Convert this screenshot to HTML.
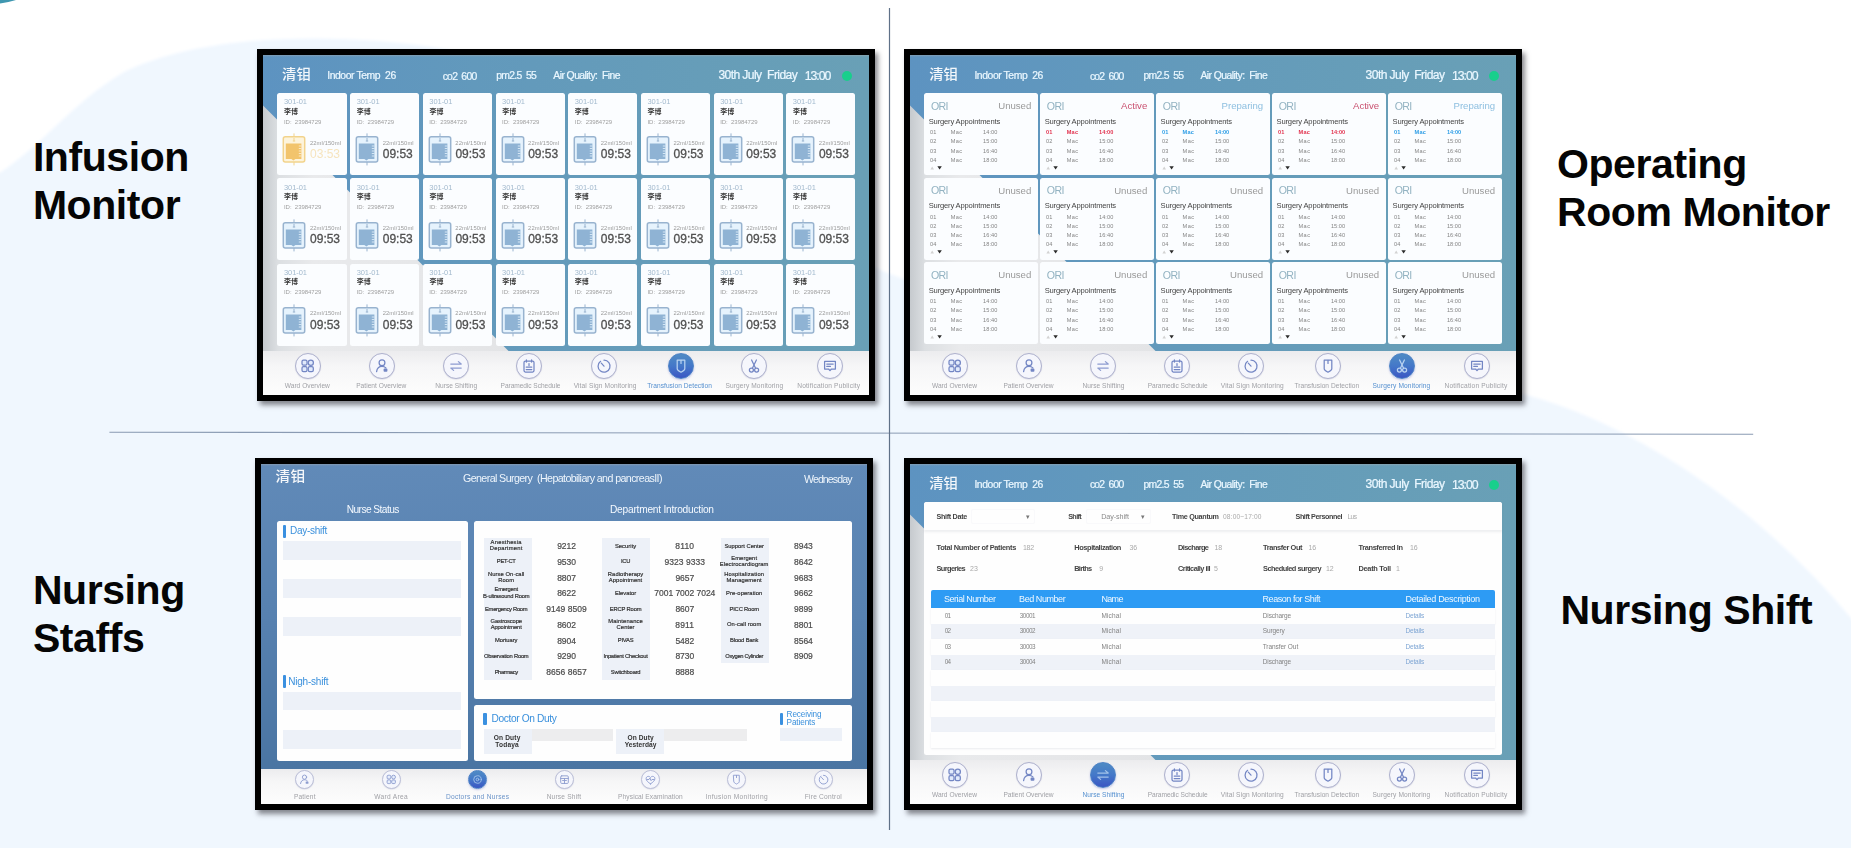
<!DOCTYPE html>
<html lang="en"><head><meta charset="utf-8"><title>Smart ward monitors</title>
<style>
*{box-sizing:border-box}
html,body{margin:0;padding:0}
body{width:1851px;height:848px;position:relative;overflow:hidden;background:#fff;font-family:"Liberation Sans","Noto Sans CJK SC",sans-serif;-webkit-font-smoothing:antialiased}
.bg{position:absolute;left:0;top:0}
h2{position:absolute;margin:0;font:bold 41px/48px "Liberation Sans",sans-serif;color:#050505;white-space:nowrap;letter-spacing:-.42px}
.frame{position:absolute;width:618px;height:352px;border:6px solid #000;background:#000;box-shadow:3px 4px 5px rgba(40,40,50,.55)}
.screen{position:relative;width:606px;height:340px;overflow:hidden;filter:blur(.65px)}
.screen::after{content:"";position:absolute;left:0;top:0;width:606px;height:2px;background:linear-gradient(180deg,rgba(170,170,170,.45),rgba(170,170,170,0))}
.std .screen{background:linear-gradient(90deg,#5d93c1 0%,#6299bc 35%,#69a0b6 100%)}
.blue .screen{background:linear-gradient(180deg,#618ab8 0%,#5781b0 45%,#47729f 100%)}
.b,.t,.ni,.tri{position:absolute}
.t{white-space:nowrap;font-family:"Liberation Sans","Noto Sans CJK SC",sans-serif}
.wedge{position:absolute;left:0;top:0}
.card{background:#fbfdff;border-radius:2.5px}
.panel{background:#fefefe;border-radius:2.5px}
.dot{border-radius:50%;background:#18cf8c}
.nav{background:linear-gradient(180deg,#ececee 0%,#f6f6f7 35%,#fdfdfd 100%)}
.navsh{background:linear-gradient(180deg,rgba(205,208,212,0),rgba(215,217,220,.0))}
.ni{border-radius:50%;border:1px solid #aeb1cd;background:#f5f6fc;box-shadow:0 .5px 1px rgba(120,125,170,.25)}
.ni svg{position:absolute;left:-1px;top:-1px}
.ni.sm{border-color:#bcc0d8}
.ni.sm svg{opacity:.8}
.ni.sm.on{border-color:#4c82c6}
svg{display:block}
.ni.on{border-color:#4c82c6;background:linear-gradient(180deg,#4f8bc4 0%,#4478c9 50%,#3a55c3 100%);box-shadow:0 1px 2px rgba(90,100,200,.35)}
.bar{background:#3a90e0;border-radius:1px}
.stripe{background:#edf1f8}
.lab{background:#edf1f8}
.gbar{background:#ededee}
.filter{background:#fefefe;border-radius:2.5px 2.5px 0 0;box-shadow:0 1.500px 2.500px rgba(120,130,150,.13)}
.sel{border:1px solid #f9f9fb;border-radius:2px;background:#fefefe}
.thead{background:#2d9bf4;border-radius:2px 2px 0 0}
.tr{background:#fefefe;box-shadow:0 1px 1.500px rgba(150,160,180,.18)}
.tr.alt{background:#eff2f8;box-shadow:none}
.hd{-webkit-text-stroke:.22px currentColor}
.tm{-webkit-text-stroke:.3px currentColor}
.dl{-webkit-text-stroke:.18px #2e2e2e}
.dn{-webkit-text-stroke:.2px #4c4c4c}
.logo{font-family:"Liberation Sans","Noto Sans CJK SC",sans-serif}
.cjk{font-family:"Liberation Sans","Noto Sans CJK SC",sans-serif}
</style></head><body>
<svg class="bg" viewBox="0 0 1851 848" width="1851" height="848"><rect width="1851" height="848" fill="#ffffff"/><filter id="soft" x="-5%" y="-5%" width="110%" height="110%"><feGaussianBlur stdDeviation="1.6"/></filter><path filter="url(#soft)" d="M-20 184 C34 158 66 106 124 72 C190 40 290 34 380 41 C470 48 560 70 700 160 C780 212 830 250 890 274 C1100 350 1400 362 1530 396 C1650 430 1770 520 1851 618 L1900 700 L1900 900 L-20 900 Z" fill="#f0f7fe"/><path d="M0 0 L16 0 C11 1.600 6 2.800 0 3.400 Z" fill="#3f97b0"/><line x1="109.400" y1="432.200" x2="1753.200" y2="434.200" stroke="#8a9bb3" stroke-width="1.050"/><line x1="889.500" y1="8" x2="889.500" y2="830" stroke="#5f7188" stroke-width="1.200"/></svg>
<h2 style="left:32.9px;top:132.5px">Infusion<br>Monitor</h2>
<h2 style="left:1557px;top:140.3px">Operating<br>Room Monitor</h2>
<h2 style="left:32.9px;top:565.7px">Nursing<br>Staffs</h2>
<h2 style="left:1560.4px;top:585.9px">Nursing Shift</h2>
<section class="frame std" style="left:257px;top:49px"><div class="screen"><svg class="wedge" viewBox="0 0 606 340" width="606" height="340"><defs><linearGradient id="wga" x1="0" x2="1" y1="0" y2="0"><stop offset="0" stop-color="#c6cace"/><stop offset=".06" stop-color="#dcdfe2"/><stop offset=".2" stop-color="#e9eaec"/><stop offset="1" stop-color="#e3e4e6"/></linearGradient></defs><polygon points="0,50.500 249,299.500 0,299.500" fill="url(#wga)"/></svg>
<div class="t logo" style="left:19.0px;top:11.46px;font-size:14.4px;line-height:17.28px;color:rgba(255,255,255,.93);font-weight:500;transform:scaleY(.92);">清钼</div>
<div class="t hd" style="left:64.2px;top:15.16px;font-size:10.4px;line-height:12.48px;color:#eaf7ff;letter-spacing:-0.422px;">Indoor Temp&nbsp; 26</div>
<div class="t hd" style="left:179.7px;top:15.76px;font-size:10.4px;line-height:12.48px;color:#eaf7ff;letter-spacing:-0.768px;">co2&nbsp; 600</div>
<div class="t hd" style="left:233.2px;top:15.16px;font-size:10.4px;line-height:12.48px;color:#eaf7ff;letter-spacing:-0.702px;">pm2.5&nbsp; 55</div>
<div class="t hd" style="left:290.3px;top:15.16px;font-size:10.4px;line-height:12.48px;color:#eaf7ff;letter-spacing:-0.565px;">Air Quality:&nbsp; Fine</div>
<div class="t hd" style="left:455.4px;top:13.14px;font-size:12.1px;line-height:14.52px;color:#eaf7ff;letter-spacing:-0.583px;">30th July&nbsp; Friday</div>
<div class="t hd" style="left:541.8px;top:13.92px;font-size:12.3px;line-height:14.76px;color:#eaf7ff;letter-spacing:-1.070px;">13:00</div>
<div class="b dot" style="left:578.9px;top:16.1px;width:10.4px;height:10.4px;"></div>
<div class="b card" style="left:14.45px;top:38.0px;width:69.1px;height:82.0px;"></div>
<div class="t" style="left:20.95px;top:42.3px;font-size:7.5px;line-height:9.0px;color:#a3bace;letter-spacing:-0.072px;">301-01</div>
<div class="t cjk" style="left:21.05px;top:52.8px;font-size:7.0px;line-height:8.4px;color:#3a3a3a;font-weight:700;letter-spacing:0.000px;">李博</div>
<div class="t" style="left:20.95px;top:63.6px;font-size:6.0px;line-height:7.2px;color:#a0a0a0;letter-spacing:-0.025px;">ID:&nbsp; 23984729</div>
<div class="b" style="left:19.45px;top:76.3px;width:24px;height:36px"><svg class="bag" viewBox="0 0 24 36" width="24" height="36"><path d="M12 2.400v4M12 30v4.400" stroke="#f2d38c" stroke-width="1" fill="none"/><rect x="1.300" y="5.800" width="21.400" height="25.200" rx="2" fill="#fdf4dc" stroke="#f2d38c" stroke-width="1.500"/><path d="M3.800 12.600h15.600v15.400h-6l-2 1.400-2-1.400h-5.600z" fill="#f2c46c"/><path d="M16.800 15h2.600M16.800 17.500h2.600M16.800 20h2.600M16.800 22.500h2.600M16.800 25h2.600" stroke="#fdf4dc" stroke-width=".800"/><path d="M12 7v3.200M10.800 10h2.400" stroke="#f2d38c" stroke-width="1"/></svg></div>
<div class="t" style="left:46.95px;top:84.62px;font-size:5.8px;line-height:6.96px;color:#9a9a9a;letter-spacing:0.115px;">22ml/150ml</div>
<div class="t" style="left:47.05px;top:92.0px;font-size:12.0px;line-height:14.4px;color:#f6e4be;letter-spacing:-0.008px;">03:53</div>
<div class="b card" style="left:87.15px;top:38.0px;width:69.1px;height:82.0px;"></div>
<div class="t" style="left:93.65px;top:42.3px;font-size:7.5px;line-height:9.0px;color:#a3bace;letter-spacing:-0.072px;">301-01</div>
<div class="t cjk" style="left:93.75px;top:52.8px;font-size:7.0px;line-height:8.4px;color:#3a3a3a;font-weight:700;letter-spacing:0.000px;">李博</div>
<div class="t" style="left:93.65px;top:63.6px;font-size:6.0px;line-height:7.2px;color:#a0a0a0;letter-spacing:-0.025px;">ID:&nbsp; 23984729</div>
<div class="b" style="left:92.15px;top:76.3px;width:24px;height:36px"><svg class="bag" viewBox="0 0 24 36" width="24" height="36"><path d="M12 2.400v4M12 30v4.400" stroke="#98b3cf" stroke-width="1" fill="none"/><rect x="1.300" y="5.800" width="21.400" height="25.200" rx="2" fill="#e6f3fd" stroke="#98b3cf" stroke-width="1.500"/><path d="M3.800 12.600h15.600v15.400h-6l-2 1.400-2-1.400h-5.600z" fill="#8fb3d4"/><path d="M16.800 15h2.600M16.800 17.500h2.600M16.800 20h2.600M16.800 22.500h2.600M16.800 25h2.600" stroke="#e6f3fd" stroke-width=".800"/><path d="M12 7v3.200M10.800 10h2.400" stroke="#98b3cf" stroke-width="1"/></svg></div>
<div class="t" style="left:119.65px;top:84.62px;font-size:5.8px;line-height:6.96px;color:#9a9a9a;letter-spacing:0.115px;">22ml/150ml</div>
<div class="t tm" style="left:119.75px;top:92.0px;font-size:12.0px;line-height:14.4px;color:#505050;letter-spacing:-0.008px;">09:53</div>
<div class="b card" style="left:159.85px;top:38.0px;width:69.1px;height:82.0px;"></div>
<div class="t" style="left:166.35px;top:42.3px;font-size:7.5px;line-height:9.0px;color:#a3bace;letter-spacing:-0.072px;">301-01</div>
<div class="t cjk" style="left:166.45px;top:52.8px;font-size:7.0px;line-height:8.4px;color:#3a3a3a;font-weight:700;letter-spacing:0.000px;">李博</div>
<div class="t" style="left:166.35px;top:63.6px;font-size:6.0px;line-height:7.2px;color:#a0a0a0;letter-spacing:-0.025px;">ID:&nbsp; 23984729</div>
<div class="b" style="left:164.85px;top:76.3px;width:24px;height:36px"><svg class="bag" viewBox="0 0 24 36" width="24" height="36"><path d="M12 2.400v4M12 30v4.400" stroke="#98b3cf" stroke-width="1" fill="none"/><rect x="1.300" y="5.800" width="21.400" height="25.200" rx="2" fill="#e6f3fd" stroke="#98b3cf" stroke-width="1.500"/><path d="M3.800 12.600h15.600v15.400h-6l-2 1.400-2-1.400h-5.600z" fill="#8fb3d4"/><path d="M16.800 15h2.600M16.800 17.500h2.600M16.800 20h2.600M16.800 22.500h2.600M16.800 25h2.600" stroke="#e6f3fd" stroke-width=".800"/><path d="M12 7v3.200M10.800 10h2.400" stroke="#98b3cf" stroke-width="1"/></svg></div>
<div class="t" style="left:192.35px;top:84.62px;font-size:5.8px;line-height:6.96px;color:#9a9a9a;letter-spacing:0.115px;">22ml/150ml</div>
<div class="t tm" style="left:192.45px;top:92.0px;font-size:12.0px;line-height:14.4px;color:#505050;letter-spacing:-0.008px;">09:53</div>
<div class="b card" style="left:232.55px;top:38.0px;width:69.1px;height:82.0px;"></div>
<div class="t" style="left:239.05px;top:42.3px;font-size:7.5px;line-height:9.0px;color:#a3bace;letter-spacing:-0.072px;">301-01</div>
<div class="t cjk" style="left:239.15px;top:52.8px;font-size:7.0px;line-height:8.4px;color:#3a3a3a;font-weight:700;letter-spacing:0.000px;">李博</div>
<div class="t" style="left:239.05px;top:63.6px;font-size:6.0px;line-height:7.2px;color:#a0a0a0;letter-spacing:-0.025px;">ID:&nbsp; 23984729</div>
<div class="b" style="left:237.55px;top:76.3px;width:24px;height:36px"><svg class="bag" viewBox="0 0 24 36" width="24" height="36"><path d="M12 2.400v4M12 30v4.400" stroke="#98b3cf" stroke-width="1" fill="none"/><rect x="1.300" y="5.800" width="21.400" height="25.200" rx="2" fill="#e6f3fd" stroke="#98b3cf" stroke-width="1.500"/><path d="M3.800 12.600h15.600v15.400h-6l-2 1.400-2-1.400h-5.600z" fill="#8fb3d4"/><path d="M16.800 15h2.600M16.800 17.500h2.600M16.800 20h2.600M16.800 22.500h2.600M16.800 25h2.600" stroke="#e6f3fd" stroke-width=".800"/><path d="M12 7v3.200M10.800 10h2.400" stroke="#98b3cf" stroke-width="1"/></svg></div>
<div class="t" style="left:265.05px;top:84.62px;font-size:5.8px;line-height:6.96px;color:#9a9a9a;letter-spacing:0.115px;">22ml/150ml</div>
<div class="t tm" style="left:265.15px;top:92.0px;font-size:12.0px;line-height:14.4px;color:#505050;letter-spacing:-0.008px;">09:53</div>
<div class="b card" style="left:305.25px;top:38.0px;width:69.1px;height:82.0px;"></div>
<div class="t" style="left:311.75px;top:42.3px;font-size:7.5px;line-height:9.0px;color:#a3bace;letter-spacing:-0.072px;">301-01</div>
<div class="t cjk" style="left:311.85px;top:52.8px;font-size:7.0px;line-height:8.4px;color:#3a3a3a;font-weight:700;letter-spacing:0.000px;">李博</div>
<div class="t" style="left:311.75px;top:63.6px;font-size:6.0px;line-height:7.2px;color:#a0a0a0;letter-spacing:-0.025px;">ID:&nbsp; 23984729</div>
<div class="b" style="left:310.25px;top:76.3px;width:24px;height:36px"><svg class="bag" viewBox="0 0 24 36" width="24" height="36"><path d="M12 2.400v4M12 30v4.400" stroke="#98b3cf" stroke-width="1" fill="none"/><rect x="1.300" y="5.800" width="21.400" height="25.200" rx="2" fill="#e6f3fd" stroke="#98b3cf" stroke-width="1.500"/><path d="M3.800 12.600h15.600v15.400h-6l-2 1.400-2-1.400h-5.600z" fill="#8fb3d4"/><path d="M16.800 15h2.600M16.800 17.500h2.600M16.800 20h2.600M16.800 22.500h2.600M16.800 25h2.600" stroke="#e6f3fd" stroke-width=".800"/><path d="M12 7v3.200M10.800 10h2.400" stroke="#98b3cf" stroke-width="1"/></svg></div>
<div class="t" style="left:337.75px;top:84.62px;font-size:5.8px;line-height:6.96px;color:#9a9a9a;letter-spacing:0.115px;">22ml/150ml</div>
<div class="t tm" style="left:337.85px;top:92.0px;font-size:12.0px;line-height:14.4px;color:#505050;letter-spacing:-0.008px;">09:53</div>
<div class="b card" style="left:377.95px;top:38.0px;width:69.1px;height:82.0px;"></div>
<div class="t" style="left:384.45px;top:42.3px;font-size:7.5px;line-height:9.0px;color:#a3bace;letter-spacing:-0.072px;">301-01</div>
<div class="t cjk" style="left:384.55px;top:52.8px;font-size:7.0px;line-height:8.4px;color:#3a3a3a;font-weight:700;letter-spacing:0.000px;">李博</div>
<div class="t" style="left:384.45px;top:63.6px;font-size:6.0px;line-height:7.2px;color:#a0a0a0;letter-spacing:-0.025px;">ID:&nbsp; 23984729</div>
<div class="b" style="left:382.95px;top:76.3px;width:24px;height:36px"><svg class="bag" viewBox="0 0 24 36" width="24" height="36"><path d="M12 2.400v4M12 30v4.400" stroke="#98b3cf" stroke-width="1" fill="none"/><rect x="1.300" y="5.800" width="21.400" height="25.200" rx="2" fill="#e6f3fd" stroke="#98b3cf" stroke-width="1.500"/><path d="M3.800 12.600h15.600v15.400h-6l-2 1.400-2-1.400h-5.600z" fill="#8fb3d4"/><path d="M16.800 15h2.600M16.800 17.500h2.600M16.800 20h2.600M16.800 22.500h2.600M16.800 25h2.600" stroke="#e6f3fd" stroke-width=".800"/><path d="M12 7v3.200M10.800 10h2.400" stroke="#98b3cf" stroke-width="1"/></svg></div>
<div class="t" style="left:410.45px;top:84.62px;font-size:5.8px;line-height:6.96px;color:#9a9a9a;letter-spacing:0.115px;">22ml/150ml</div>
<div class="t tm" style="left:410.55px;top:92.0px;font-size:12.0px;line-height:14.4px;color:#505050;letter-spacing:-0.008px;">09:53</div>
<div class="b card" style="left:450.65px;top:38.0px;width:69.1px;height:82.0px;"></div>
<div class="t" style="left:457.15px;top:42.3px;font-size:7.5px;line-height:9.0px;color:#a3bace;letter-spacing:-0.072px;">301-01</div>
<div class="t cjk" style="left:457.25px;top:52.8px;font-size:7.0px;line-height:8.4px;color:#3a3a3a;font-weight:700;letter-spacing:0.000px;">李博</div>
<div class="t" style="left:457.15px;top:63.6px;font-size:6.0px;line-height:7.2px;color:#a0a0a0;letter-spacing:-0.025px;">ID:&nbsp; 23984729</div>
<div class="b" style="left:455.65px;top:76.3px;width:24px;height:36px"><svg class="bag" viewBox="0 0 24 36" width="24" height="36"><path d="M12 2.400v4M12 30v4.400" stroke="#98b3cf" stroke-width="1" fill="none"/><rect x="1.300" y="5.800" width="21.400" height="25.200" rx="2" fill="#e6f3fd" stroke="#98b3cf" stroke-width="1.500"/><path d="M3.800 12.600h15.600v15.400h-6l-2 1.400-2-1.400h-5.600z" fill="#8fb3d4"/><path d="M16.800 15h2.600M16.800 17.500h2.600M16.800 20h2.600M16.800 22.500h2.600M16.800 25h2.600" stroke="#e6f3fd" stroke-width=".800"/><path d="M12 7v3.200M10.800 10h2.400" stroke="#98b3cf" stroke-width="1"/></svg></div>
<div class="t" style="left:483.15px;top:84.62px;font-size:5.8px;line-height:6.96px;color:#9a9a9a;letter-spacing:0.115px;">22ml/150ml</div>
<div class="t tm" style="left:483.25px;top:92.0px;font-size:12.0px;line-height:14.4px;color:#505050;letter-spacing:-0.008px;">09:53</div>
<div class="b card" style="left:523.35px;top:38.0px;width:69.1px;height:82.0px;"></div>
<div class="t" style="left:529.85px;top:42.3px;font-size:7.5px;line-height:9.0px;color:#a3bace;letter-spacing:-0.072px;">301-01</div>
<div class="t cjk" style="left:529.95px;top:52.8px;font-size:7.0px;line-height:8.4px;color:#3a3a3a;font-weight:700;letter-spacing:0.000px;">李博</div>
<div class="t" style="left:529.85px;top:63.6px;font-size:6.0px;line-height:7.2px;color:#a0a0a0;letter-spacing:-0.025px;">ID:&nbsp; 23984729</div>
<div class="b" style="left:528.35px;top:76.3px;width:24px;height:36px"><svg class="bag" viewBox="0 0 24 36" width="24" height="36"><path d="M12 2.400v4M12 30v4.400" stroke="#98b3cf" stroke-width="1" fill="none"/><rect x="1.300" y="5.800" width="21.400" height="25.200" rx="2" fill="#e6f3fd" stroke="#98b3cf" stroke-width="1.500"/><path d="M3.800 12.600h15.600v15.400h-6l-2 1.400-2-1.400h-5.600z" fill="#8fb3d4"/><path d="M16.800 15h2.600M16.800 17.500h2.600M16.800 20h2.600M16.800 22.500h2.600M16.800 25h2.600" stroke="#e6f3fd" stroke-width=".800"/><path d="M12 7v3.200M10.800 10h2.400" stroke="#98b3cf" stroke-width="1"/></svg></div>
<div class="t" style="left:555.85px;top:84.62px;font-size:5.8px;line-height:6.96px;color:#9a9a9a;letter-spacing:0.115px;">22ml/150ml</div>
<div class="t tm" style="left:555.95px;top:92.0px;font-size:12.0px;line-height:14.4px;color:#505050;letter-spacing:-0.008px;">09:53</div>
<div class="b card" style="left:14.45px;top:123.25px;width:69.1px;height:82.0px;"></div>
<div class="t" style="left:20.95px;top:127.55px;font-size:7.5px;line-height:9.0px;color:#a3bace;letter-spacing:-0.072px;">301-01</div>
<div class="t cjk" style="left:21.05px;top:138.05px;font-size:7.0px;line-height:8.4px;color:#3a3a3a;font-weight:700;letter-spacing:0.000px;">李博</div>
<div class="t" style="left:20.95px;top:148.85px;font-size:6.0px;line-height:7.2px;color:#a0a0a0;letter-spacing:-0.025px;">ID:&nbsp; 23984729</div>
<div class="b" style="left:19.45px;top:161.55px;width:24px;height:36px"><svg class="bag" viewBox="0 0 24 36" width="24" height="36"><path d="M12 2.400v4M12 30v4.400" stroke="#98b3cf" stroke-width="1" fill="none"/><rect x="1.300" y="5.800" width="21.400" height="25.200" rx="2" fill="#e6f3fd" stroke="#98b3cf" stroke-width="1.500"/><path d="M3.800 12.600h15.600v15.400h-6l-2 1.400-2-1.400h-5.600z" fill="#8fb3d4"/><path d="M16.800 15h2.600M16.800 17.500h2.600M16.800 20h2.600M16.800 22.500h2.600M16.800 25h2.600" stroke="#e6f3fd" stroke-width=".800"/><path d="M12 7v3.200M10.800 10h2.400" stroke="#98b3cf" stroke-width="1"/></svg></div>
<div class="t" style="left:46.95px;top:169.87px;font-size:5.8px;line-height:6.96px;color:#9a9a9a;letter-spacing:0.115px;">22ml/150ml</div>
<div class="t tm" style="left:47.05px;top:177.25px;font-size:12.0px;line-height:14.4px;color:#505050;letter-spacing:-0.008px;">09:53</div>
<div class="b card" style="left:87.15px;top:123.25px;width:69.1px;height:82.0px;"></div>
<div class="t" style="left:93.65px;top:127.55px;font-size:7.5px;line-height:9.0px;color:#a3bace;letter-spacing:-0.072px;">301-01</div>
<div class="t cjk" style="left:93.75px;top:138.05px;font-size:7.0px;line-height:8.4px;color:#3a3a3a;font-weight:700;letter-spacing:0.000px;">李博</div>
<div class="t" style="left:93.65px;top:148.85px;font-size:6.0px;line-height:7.2px;color:#a0a0a0;letter-spacing:-0.025px;">ID:&nbsp; 23984729</div>
<div class="b" style="left:92.15px;top:161.55px;width:24px;height:36px"><svg class="bag" viewBox="0 0 24 36" width="24" height="36"><path d="M12 2.400v4M12 30v4.400" stroke="#98b3cf" stroke-width="1" fill="none"/><rect x="1.300" y="5.800" width="21.400" height="25.200" rx="2" fill="#e6f3fd" stroke="#98b3cf" stroke-width="1.500"/><path d="M3.800 12.600h15.600v15.400h-6l-2 1.400-2-1.400h-5.600z" fill="#8fb3d4"/><path d="M16.800 15h2.600M16.800 17.500h2.600M16.800 20h2.600M16.800 22.500h2.600M16.800 25h2.600" stroke="#e6f3fd" stroke-width=".800"/><path d="M12 7v3.200M10.800 10h2.400" stroke="#98b3cf" stroke-width="1"/></svg></div>
<div class="t" style="left:119.65px;top:169.87px;font-size:5.8px;line-height:6.96px;color:#9a9a9a;letter-spacing:0.115px;">22ml/150ml</div>
<div class="t tm" style="left:119.75px;top:177.25px;font-size:12.0px;line-height:14.4px;color:#505050;letter-spacing:-0.008px;">09:53</div>
<div class="b card" style="left:159.85px;top:123.25px;width:69.1px;height:82.0px;"></div>
<div class="t" style="left:166.35px;top:127.55px;font-size:7.5px;line-height:9.0px;color:#a3bace;letter-spacing:-0.072px;">301-01</div>
<div class="t cjk" style="left:166.45px;top:138.05px;font-size:7.0px;line-height:8.4px;color:#3a3a3a;font-weight:700;letter-spacing:0.000px;">李博</div>
<div class="t" style="left:166.35px;top:148.85px;font-size:6.0px;line-height:7.2px;color:#a0a0a0;letter-spacing:-0.025px;">ID:&nbsp; 23984729</div>
<div class="b" style="left:164.85px;top:161.55px;width:24px;height:36px"><svg class="bag" viewBox="0 0 24 36" width="24" height="36"><path d="M12 2.400v4M12 30v4.400" stroke="#98b3cf" stroke-width="1" fill="none"/><rect x="1.300" y="5.800" width="21.400" height="25.200" rx="2" fill="#e6f3fd" stroke="#98b3cf" stroke-width="1.500"/><path d="M3.800 12.600h15.600v15.400h-6l-2 1.400-2-1.400h-5.600z" fill="#8fb3d4"/><path d="M16.800 15h2.600M16.800 17.500h2.600M16.800 20h2.600M16.800 22.500h2.600M16.800 25h2.600" stroke="#e6f3fd" stroke-width=".800"/><path d="M12 7v3.200M10.800 10h2.400" stroke="#98b3cf" stroke-width="1"/></svg></div>
<div class="t" style="left:192.35px;top:169.87px;font-size:5.8px;line-height:6.96px;color:#9a9a9a;letter-spacing:0.115px;">22ml/150ml</div>
<div class="t tm" style="left:192.45px;top:177.25px;font-size:12.0px;line-height:14.4px;color:#505050;letter-spacing:-0.008px;">09:53</div>
<div class="b card" style="left:232.55px;top:123.25px;width:69.1px;height:82.0px;"></div>
<div class="t" style="left:239.05px;top:127.55px;font-size:7.5px;line-height:9.0px;color:#a3bace;letter-spacing:-0.072px;">301-01</div>
<div class="t cjk" style="left:239.15px;top:138.05px;font-size:7.0px;line-height:8.4px;color:#3a3a3a;font-weight:700;letter-spacing:0.000px;">李博</div>
<div class="t" style="left:239.05px;top:148.85px;font-size:6.0px;line-height:7.2px;color:#a0a0a0;letter-spacing:-0.025px;">ID:&nbsp; 23984729</div>
<div class="b" style="left:237.55px;top:161.55px;width:24px;height:36px"><svg class="bag" viewBox="0 0 24 36" width="24" height="36"><path d="M12 2.400v4M12 30v4.400" stroke="#98b3cf" stroke-width="1" fill="none"/><rect x="1.300" y="5.800" width="21.400" height="25.200" rx="2" fill="#e6f3fd" stroke="#98b3cf" stroke-width="1.500"/><path d="M3.800 12.600h15.600v15.400h-6l-2 1.400-2-1.400h-5.600z" fill="#8fb3d4"/><path d="M16.800 15h2.600M16.800 17.500h2.600M16.800 20h2.600M16.800 22.500h2.600M16.800 25h2.600" stroke="#e6f3fd" stroke-width=".800"/><path d="M12 7v3.200M10.800 10h2.400" stroke="#98b3cf" stroke-width="1"/></svg></div>
<div class="t" style="left:265.05px;top:169.87px;font-size:5.8px;line-height:6.96px;color:#9a9a9a;letter-spacing:0.115px;">22ml/150ml</div>
<div class="t tm" style="left:265.15px;top:177.25px;font-size:12.0px;line-height:14.4px;color:#505050;letter-spacing:-0.008px;">09:53</div>
<div class="b card" style="left:305.25px;top:123.25px;width:69.1px;height:82.0px;"></div>
<div class="t" style="left:311.75px;top:127.55px;font-size:7.5px;line-height:9.0px;color:#a3bace;letter-spacing:-0.072px;">301-01</div>
<div class="t cjk" style="left:311.85px;top:138.05px;font-size:7.0px;line-height:8.4px;color:#3a3a3a;font-weight:700;letter-spacing:0.000px;">李博</div>
<div class="t" style="left:311.75px;top:148.85px;font-size:6.0px;line-height:7.2px;color:#a0a0a0;letter-spacing:-0.025px;">ID:&nbsp; 23984729</div>
<div class="b" style="left:310.25px;top:161.55px;width:24px;height:36px"><svg class="bag" viewBox="0 0 24 36" width="24" height="36"><path d="M12 2.400v4M12 30v4.400" stroke="#98b3cf" stroke-width="1" fill="none"/><rect x="1.300" y="5.800" width="21.400" height="25.200" rx="2" fill="#e6f3fd" stroke="#98b3cf" stroke-width="1.500"/><path d="M3.800 12.600h15.600v15.400h-6l-2 1.400-2-1.400h-5.600z" fill="#8fb3d4"/><path d="M16.800 15h2.600M16.800 17.500h2.600M16.800 20h2.600M16.800 22.500h2.600M16.800 25h2.600" stroke="#e6f3fd" stroke-width=".800"/><path d="M12 7v3.200M10.800 10h2.400" stroke="#98b3cf" stroke-width="1"/></svg></div>
<div class="t" style="left:337.75px;top:169.87px;font-size:5.8px;line-height:6.96px;color:#9a9a9a;letter-spacing:0.115px;">22ml/150ml</div>
<div class="t tm" style="left:337.85px;top:177.25px;font-size:12.0px;line-height:14.4px;color:#505050;letter-spacing:-0.008px;">09:53</div>
<div class="b card" style="left:377.95px;top:123.25px;width:69.1px;height:82.0px;"></div>
<div class="t" style="left:384.45px;top:127.55px;font-size:7.5px;line-height:9.0px;color:#a3bace;letter-spacing:-0.072px;">301-01</div>
<div class="t cjk" style="left:384.55px;top:138.05px;font-size:7.0px;line-height:8.4px;color:#3a3a3a;font-weight:700;letter-spacing:0.000px;">李博</div>
<div class="t" style="left:384.45px;top:148.85px;font-size:6.0px;line-height:7.2px;color:#a0a0a0;letter-spacing:-0.025px;">ID:&nbsp; 23984729</div>
<div class="b" style="left:382.95px;top:161.55px;width:24px;height:36px"><svg class="bag" viewBox="0 0 24 36" width="24" height="36"><path d="M12 2.400v4M12 30v4.400" stroke="#98b3cf" stroke-width="1" fill="none"/><rect x="1.300" y="5.800" width="21.400" height="25.200" rx="2" fill="#e6f3fd" stroke="#98b3cf" stroke-width="1.500"/><path d="M3.800 12.600h15.600v15.400h-6l-2 1.400-2-1.400h-5.600z" fill="#8fb3d4"/><path d="M16.800 15h2.600M16.800 17.500h2.600M16.800 20h2.600M16.800 22.500h2.600M16.800 25h2.600" stroke="#e6f3fd" stroke-width=".800"/><path d="M12 7v3.200M10.800 10h2.400" stroke="#98b3cf" stroke-width="1"/></svg></div>
<div class="t" style="left:410.45px;top:169.87px;font-size:5.8px;line-height:6.96px;color:#9a9a9a;letter-spacing:0.115px;">22ml/150ml</div>
<div class="t tm" style="left:410.55px;top:177.25px;font-size:12.0px;line-height:14.4px;color:#505050;letter-spacing:-0.008px;">09:53</div>
<div class="b card" style="left:450.65px;top:123.25px;width:69.1px;height:82.0px;"></div>
<div class="t" style="left:457.15px;top:127.55px;font-size:7.5px;line-height:9.0px;color:#a3bace;letter-spacing:-0.072px;">301-01</div>
<div class="t cjk" style="left:457.25px;top:138.05px;font-size:7.0px;line-height:8.4px;color:#3a3a3a;font-weight:700;letter-spacing:0.000px;">李博</div>
<div class="t" style="left:457.15px;top:148.85px;font-size:6.0px;line-height:7.2px;color:#a0a0a0;letter-spacing:-0.025px;">ID:&nbsp; 23984729</div>
<div class="b" style="left:455.65px;top:161.55px;width:24px;height:36px"><svg class="bag" viewBox="0 0 24 36" width="24" height="36"><path d="M12 2.400v4M12 30v4.400" stroke="#98b3cf" stroke-width="1" fill="none"/><rect x="1.300" y="5.800" width="21.400" height="25.200" rx="2" fill="#e6f3fd" stroke="#98b3cf" stroke-width="1.500"/><path d="M3.800 12.600h15.600v15.400h-6l-2 1.400-2-1.400h-5.600z" fill="#8fb3d4"/><path d="M16.800 15h2.600M16.800 17.500h2.600M16.800 20h2.600M16.800 22.500h2.600M16.800 25h2.600" stroke="#e6f3fd" stroke-width=".800"/><path d="M12 7v3.200M10.800 10h2.400" stroke="#98b3cf" stroke-width="1"/></svg></div>
<div class="t" style="left:483.15px;top:169.87px;font-size:5.8px;line-height:6.96px;color:#9a9a9a;letter-spacing:0.115px;">22ml/150ml</div>
<div class="t tm" style="left:483.25px;top:177.25px;font-size:12.0px;line-height:14.4px;color:#505050;letter-spacing:-0.008px;">09:53</div>
<div class="b card" style="left:523.35px;top:123.25px;width:69.1px;height:82.0px;"></div>
<div class="t" style="left:529.85px;top:127.55px;font-size:7.5px;line-height:9.0px;color:#a3bace;letter-spacing:-0.072px;">301-01</div>
<div class="t cjk" style="left:529.95px;top:138.05px;font-size:7.0px;line-height:8.4px;color:#3a3a3a;font-weight:700;letter-spacing:0.000px;">李博</div>
<div class="t" style="left:529.85px;top:148.85px;font-size:6.0px;line-height:7.2px;color:#a0a0a0;letter-spacing:-0.025px;">ID:&nbsp; 23984729</div>
<div class="b" style="left:528.35px;top:161.55px;width:24px;height:36px"><svg class="bag" viewBox="0 0 24 36" width="24" height="36"><path d="M12 2.400v4M12 30v4.400" stroke="#98b3cf" stroke-width="1" fill="none"/><rect x="1.300" y="5.800" width="21.400" height="25.200" rx="2" fill="#e6f3fd" stroke="#98b3cf" stroke-width="1.500"/><path d="M3.800 12.600h15.600v15.400h-6l-2 1.400-2-1.400h-5.600z" fill="#8fb3d4"/><path d="M16.800 15h2.600M16.800 17.500h2.600M16.800 20h2.600M16.800 22.500h2.600M16.800 25h2.600" stroke="#e6f3fd" stroke-width=".800"/><path d="M12 7v3.200M10.800 10h2.400" stroke="#98b3cf" stroke-width="1"/></svg></div>
<div class="t" style="left:555.85px;top:169.87px;font-size:5.8px;line-height:6.96px;color:#9a9a9a;letter-spacing:0.115px;">22ml/150ml</div>
<div class="t tm" style="left:555.95px;top:177.25px;font-size:12.0px;line-height:14.4px;color:#505050;letter-spacing:-0.008px;">09:53</div>
<div class="b card" style="left:14.45px;top:208.5px;width:69.1px;height:82.0px;"></div>
<div class="t" style="left:20.95px;top:212.8px;font-size:7.5px;line-height:9.0px;color:#a3bace;letter-spacing:-0.072px;">301-01</div>
<div class="t cjk" style="left:21.05px;top:223.3px;font-size:7.0px;line-height:8.4px;color:#3a3a3a;font-weight:700;letter-spacing:0.000px;">李博</div>
<div class="t" style="left:20.95px;top:234.1px;font-size:6.0px;line-height:7.2px;color:#a0a0a0;letter-spacing:-0.025px;">ID:&nbsp; 23984729</div>
<div class="b" style="left:19.45px;top:246.8px;width:24px;height:36px"><svg class="bag" viewBox="0 0 24 36" width="24" height="36"><path d="M12 2.400v4M12 30v4.400" stroke="#98b3cf" stroke-width="1" fill="none"/><rect x="1.300" y="5.800" width="21.400" height="25.200" rx="2" fill="#e6f3fd" stroke="#98b3cf" stroke-width="1.500"/><path d="M3.800 12.600h15.600v15.400h-6l-2 1.400-2-1.400h-5.600z" fill="#8fb3d4"/><path d="M16.800 15h2.600M16.800 17.500h2.600M16.800 20h2.600M16.800 22.500h2.600M16.800 25h2.600" stroke="#e6f3fd" stroke-width=".800"/><path d="M12 7v3.200M10.800 10h2.400" stroke="#98b3cf" stroke-width="1"/></svg></div>
<div class="t" style="left:46.95px;top:255.12px;font-size:5.8px;line-height:6.96px;color:#9a9a9a;letter-spacing:0.115px;">22ml/150ml</div>
<div class="t tm" style="left:47.05px;top:262.5px;font-size:12.0px;line-height:14.4px;color:#505050;letter-spacing:-0.008px;">09:53</div>
<div class="b card" style="left:87.15px;top:208.5px;width:69.1px;height:82.0px;"></div>
<div class="t" style="left:93.65px;top:212.8px;font-size:7.5px;line-height:9.0px;color:#a3bace;letter-spacing:-0.072px;">301-01</div>
<div class="t cjk" style="left:93.75px;top:223.3px;font-size:7.0px;line-height:8.4px;color:#3a3a3a;font-weight:700;letter-spacing:0.000px;">李博</div>
<div class="t" style="left:93.65px;top:234.1px;font-size:6.0px;line-height:7.2px;color:#a0a0a0;letter-spacing:-0.025px;">ID:&nbsp; 23984729</div>
<div class="b" style="left:92.15px;top:246.8px;width:24px;height:36px"><svg class="bag" viewBox="0 0 24 36" width="24" height="36"><path d="M12 2.400v4M12 30v4.400" stroke="#98b3cf" stroke-width="1" fill="none"/><rect x="1.300" y="5.800" width="21.400" height="25.200" rx="2" fill="#e6f3fd" stroke="#98b3cf" stroke-width="1.500"/><path d="M3.800 12.600h15.600v15.400h-6l-2 1.400-2-1.400h-5.600z" fill="#8fb3d4"/><path d="M16.800 15h2.600M16.800 17.500h2.600M16.800 20h2.600M16.800 22.500h2.600M16.800 25h2.600" stroke="#e6f3fd" stroke-width=".800"/><path d="M12 7v3.200M10.800 10h2.400" stroke="#98b3cf" stroke-width="1"/></svg></div>
<div class="t" style="left:119.65px;top:255.12px;font-size:5.8px;line-height:6.96px;color:#9a9a9a;letter-spacing:0.115px;">22ml/150ml</div>
<div class="t tm" style="left:119.75px;top:262.5px;font-size:12.0px;line-height:14.4px;color:#505050;letter-spacing:-0.008px;">09:53</div>
<div class="b card" style="left:159.85px;top:208.5px;width:69.1px;height:82.0px;"></div>
<div class="t" style="left:166.35px;top:212.8px;font-size:7.5px;line-height:9.0px;color:#a3bace;letter-spacing:-0.072px;">301-01</div>
<div class="t cjk" style="left:166.45px;top:223.3px;font-size:7.0px;line-height:8.4px;color:#3a3a3a;font-weight:700;letter-spacing:0.000px;">李博</div>
<div class="t" style="left:166.35px;top:234.1px;font-size:6.0px;line-height:7.2px;color:#a0a0a0;letter-spacing:-0.025px;">ID:&nbsp; 23984729</div>
<div class="b" style="left:164.85px;top:246.8px;width:24px;height:36px"><svg class="bag" viewBox="0 0 24 36" width="24" height="36"><path d="M12 2.400v4M12 30v4.400" stroke="#98b3cf" stroke-width="1" fill="none"/><rect x="1.300" y="5.800" width="21.400" height="25.200" rx="2" fill="#e6f3fd" stroke="#98b3cf" stroke-width="1.500"/><path d="M3.800 12.600h15.600v15.400h-6l-2 1.400-2-1.400h-5.600z" fill="#8fb3d4"/><path d="M16.800 15h2.600M16.800 17.500h2.600M16.800 20h2.600M16.800 22.500h2.600M16.800 25h2.600" stroke="#e6f3fd" stroke-width=".800"/><path d="M12 7v3.200M10.800 10h2.400" stroke="#98b3cf" stroke-width="1"/></svg></div>
<div class="t" style="left:192.35px;top:255.12px;font-size:5.8px;line-height:6.96px;color:#9a9a9a;letter-spacing:0.115px;">22ml/150ml</div>
<div class="t tm" style="left:192.45px;top:262.5px;font-size:12.0px;line-height:14.4px;color:#505050;letter-spacing:-0.008px;">09:53</div>
<div class="b card" style="left:232.55px;top:208.5px;width:69.1px;height:82.0px;"></div>
<div class="t" style="left:239.05px;top:212.8px;font-size:7.5px;line-height:9.0px;color:#a3bace;letter-spacing:-0.072px;">301-01</div>
<div class="t cjk" style="left:239.15px;top:223.3px;font-size:7.0px;line-height:8.4px;color:#3a3a3a;font-weight:700;letter-spacing:0.000px;">李博</div>
<div class="t" style="left:239.05px;top:234.1px;font-size:6.0px;line-height:7.2px;color:#a0a0a0;letter-spacing:-0.025px;">ID:&nbsp; 23984729</div>
<div class="b" style="left:237.55px;top:246.8px;width:24px;height:36px"><svg class="bag" viewBox="0 0 24 36" width="24" height="36"><path d="M12 2.400v4M12 30v4.400" stroke="#98b3cf" stroke-width="1" fill="none"/><rect x="1.300" y="5.800" width="21.400" height="25.200" rx="2" fill="#e6f3fd" stroke="#98b3cf" stroke-width="1.500"/><path d="M3.800 12.600h15.600v15.400h-6l-2 1.400-2-1.400h-5.600z" fill="#8fb3d4"/><path d="M16.800 15h2.600M16.800 17.500h2.600M16.800 20h2.600M16.800 22.500h2.600M16.800 25h2.600" stroke="#e6f3fd" stroke-width=".800"/><path d="M12 7v3.200M10.800 10h2.400" stroke="#98b3cf" stroke-width="1"/></svg></div>
<div class="t" style="left:265.05px;top:255.12px;font-size:5.8px;line-height:6.96px;color:#9a9a9a;letter-spacing:0.115px;">22ml/150ml</div>
<div class="t tm" style="left:265.15px;top:262.5px;font-size:12.0px;line-height:14.4px;color:#505050;letter-spacing:-0.008px;">09:53</div>
<div class="b card" style="left:305.25px;top:208.5px;width:69.1px;height:82.0px;"></div>
<div class="t" style="left:311.75px;top:212.8px;font-size:7.5px;line-height:9.0px;color:#a3bace;letter-spacing:-0.072px;">301-01</div>
<div class="t cjk" style="left:311.85px;top:223.3px;font-size:7.0px;line-height:8.4px;color:#3a3a3a;font-weight:700;letter-spacing:0.000px;">李博</div>
<div class="t" style="left:311.75px;top:234.1px;font-size:6.0px;line-height:7.2px;color:#a0a0a0;letter-spacing:-0.025px;">ID:&nbsp; 23984729</div>
<div class="b" style="left:310.25px;top:246.8px;width:24px;height:36px"><svg class="bag" viewBox="0 0 24 36" width="24" height="36"><path d="M12 2.400v4M12 30v4.400" stroke="#98b3cf" stroke-width="1" fill="none"/><rect x="1.300" y="5.800" width="21.400" height="25.200" rx="2" fill="#e6f3fd" stroke="#98b3cf" stroke-width="1.500"/><path d="M3.800 12.600h15.600v15.400h-6l-2 1.400-2-1.400h-5.600z" fill="#8fb3d4"/><path d="M16.800 15h2.600M16.800 17.500h2.600M16.800 20h2.600M16.800 22.500h2.600M16.800 25h2.600" stroke="#e6f3fd" stroke-width=".800"/><path d="M12 7v3.200M10.800 10h2.400" stroke="#98b3cf" stroke-width="1"/></svg></div>
<div class="t" style="left:337.75px;top:255.12px;font-size:5.8px;line-height:6.96px;color:#9a9a9a;letter-spacing:0.115px;">22ml/150ml</div>
<div class="t tm" style="left:337.85px;top:262.5px;font-size:12.0px;line-height:14.4px;color:#505050;letter-spacing:-0.008px;">09:53</div>
<div class="b card" style="left:377.95px;top:208.5px;width:69.1px;height:82.0px;"></div>
<div class="t" style="left:384.45px;top:212.8px;font-size:7.5px;line-height:9.0px;color:#a3bace;letter-spacing:-0.072px;">301-01</div>
<div class="t cjk" style="left:384.55px;top:223.3px;font-size:7.0px;line-height:8.4px;color:#3a3a3a;font-weight:700;letter-spacing:0.000px;">李博</div>
<div class="t" style="left:384.45px;top:234.1px;font-size:6.0px;line-height:7.2px;color:#a0a0a0;letter-spacing:-0.025px;">ID:&nbsp; 23984729</div>
<div class="b" style="left:382.95px;top:246.8px;width:24px;height:36px"><svg class="bag" viewBox="0 0 24 36" width="24" height="36"><path d="M12 2.400v4M12 30v4.400" stroke="#98b3cf" stroke-width="1" fill="none"/><rect x="1.300" y="5.800" width="21.400" height="25.200" rx="2" fill="#e6f3fd" stroke="#98b3cf" stroke-width="1.500"/><path d="M3.800 12.600h15.600v15.400h-6l-2 1.400-2-1.400h-5.600z" fill="#8fb3d4"/><path d="M16.800 15h2.600M16.800 17.500h2.600M16.800 20h2.600M16.800 22.500h2.600M16.800 25h2.600" stroke="#e6f3fd" stroke-width=".800"/><path d="M12 7v3.200M10.800 10h2.400" stroke="#98b3cf" stroke-width="1"/></svg></div>
<div class="t" style="left:410.45px;top:255.12px;font-size:5.8px;line-height:6.96px;color:#9a9a9a;letter-spacing:0.115px;">22ml/150ml</div>
<div class="t tm" style="left:410.55px;top:262.5px;font-size:12.0px;line-height:14.4px;color:#505050;letter-spacing:-0.008px;">09:53</div>
<div class="b card" style="left:450.65px;top:208.5px;width:69.1px;height:82.0px;"></div>
<div class="t" style="left:457.15px;top:212.8px;font-size:7.5px;line-height:9.0px;color:#a3bace;letter-spacing:-0.072px;">301-01</div>
<div class="t cjk" style="left:457.25px;top:223.3px;font-size:7.0px;line-height:8.4px;color:#3a3a3a;font-weight:700;letter-spacing:0.000px;">李博</div>
<div class="t" style="left:457.15px;top:234.1px;font-size:6.0px;line-height:7.2px;color:#a0a0a0;letter-spacing:-0.025px;">ID:&nbsp; 23984729</div>
<div class="b" style="left:455.65px;top:246.8px;width:24px;height:36px"><svg class="bag" viewBox="0 0 24 36" width="24" height="36"><path d="M12 2.400v4M12 30v4.400" stroke="#98b3cf" stroke-width="1" fill="none"/><rect x="1.300" y="5.800" width="21.400" height="25.200" rx="2" fill="#e6f3fd" stroke="#98b3cf" stroke-width="1.500"/><path d="M3.800 12.600h15.600v15.400h-6l-2 1.400-2-1.400h-5.600z" fill="#8fb3d4"/><path d="M16.800 15h2.600M16.800 17.500h2.600M16.800 20h2.600M16.800 22.500h2.600M16.800 25h2.600" stroke="#e6f3fd" stroke-width=".800"/><path d="M12 7v3.200M10.800 10h2.400" stroke="#98b3cf" stroke-width="1"/></svg></div>
<div class="t" style="left:483.15px;top:255.12px;font-size:5.8px;line-height:6.96px;color:#9a9a9a;letter-spacing:0.115px;">22ml/150ml</div>
<div class="t tm" style="left:483.25px;top:262.5px;font-size:12.0px;line-height:14.4px;color:#505050;letter-spacing:-0.008px;">09:53</div>
<div class="b card" style="left:523.35px;top:208.5px;width:69.1px;height:82.0px;"></div>
<div class="t" style="left:529.85px;top:212.8px;font-size:7.5px;line-height:9.0px;color:#a3bace;letter-spacing:-0.072px;">301-01</div>
<div class="t cjk" style="left:529.95px;top:223.3px;font-size:7.0px;line-height:8.4px;color:#3a3a3a;font-weight:700;letter-spacing:0.000px;">李博</div>
<div class="t" style="left:529.85px;top:234.1px;font-size:6.0px;line-height:7.2px;color:#a0a0a0;letter-spacing:-0.025px;">ID:&nbsp; 23984729</div>
<div class="b" style="left:528.35px;top:246.8px;width:24px;height:36px"><svg class="bag" viewBox="0 0 24 36" width="24" height="36"><path d="M12 2.400v4M12 30v4.400" stroke="#98b3cf" stroke-width="1" fill="none"/><rect x="1.300" y="5.800" width="21.400" height="25.200" rx="2" fill="#e6f3fd" stroke="#98b3cf" stroke-width="1.500"/><path d="M3.800 12.600h15.600v15.400h-6l-2 1.400-2-1.400h-5.600z" fill="#8fb3d4"/><path d="M16.800 15h2.600M16.800 17.500h2.600M16.800 20h2.600M16.800 22.500h2.600M16.800 25h2.600" stroke="#e6f3fd" stroke-width=".800"/><path d="M12 7v3.200M10.800 10h2.400" stroke="#98b3cf" stroke-width="1"/></svg></div>
<div class="t" style="left:555.85px;top:255.12px;font-size:5.8px;line-height:6.96px;color:#9a9a9a;letter-spacing:0.115px;">22ml/150ml</div>
<div class="t tm" style="left:555.95px;top:262.5px;font-size:12.0px;line-height:14.4px;color:#505050;letter-spacing:-0.008px;">09:53</div>
<div class="b navsh" style="left:0px;top:291px;width:606px;height:6px;"></div>
<div class="b nav" style="left:0px;top:296px;width:606px;height:44px;"></div>
<div class="ni" style="left:31.7px;top:297.7px;width:26px;height:26px"><svg viewBox="0 0 26 26" width="26" height="26"><g fill-opacity=".55"><rect x="7" y="7.200" width="5" height="5" rx="1.400" fill="#cfe0fa" stroke="#7386c4" stroke-width="1.25" stroke-linejoin="round"/><circle cx="15.800" cy="9.700" r="2.600" fill="#cfe0fa" stroke="#7386c4" stroke-width="1.25" stroke-linejoin="round"/><rect x="7" y="13.600" width="5" height="5" rx="1.400" fill="#cfe0fa" stroke="#7386c4" stroke-width="1.25" stroke-linejoin="round"/><rect x="13.300" y="13.600" width="5" height="5" rx="1.400" fill="#cfe0fa" stroke="#7386c4" stroke-width="1.25" stroke-linejoin="round"/></g></svg></div>
<div class="t nl" style="left:44.3px;top:327.24px;font-size:6.6px;line-height:7.92px;color:#a0a1a6;letter-spacing:0.031px;transform:translateX(-50%);text-align:center;">Ward Overview</div>
<div class="ni" style="left:105.6px;top:297.7px;width:26px;height:26px"><svg viewBox="0 0 26 26" width="26" height="26"><circle cx="13" cy="9.8" r="2.9" fill="none" stroke="#7386c4" stroke-width="1.25" stroke-linecap="round" stroke-linejoin="round"/><path d="M7.6 18.6c.5-3.6 2.6-5.2 5.4-5.2 1.6 0 2.9.5 3.9 1.500" fill="none" stroke="#7386c4" stroke-width="1.25" stroke-linecap="round" stroke-linejoin="round"/><rect x="14.6" y="15.6" width="3.8" height="3.2" rx=".8" fill="#7386c4"/></svg></div>
<div class="t nl" style="left:118.3px;top:327.24px;font-size:6.6px;line-height:7.92px;color:#a0a1a6;letter-spacing:0.024px;transform:translateX(-50%);text-align:center;">Patient Overview</div>
<div class="ni" style="left:179.6px;top:297.7px;width:26px;height:26px"><svg viewBox="0 0 26 26" width="26" height="26"><path d="M7.800 11h10.400l-2.800-2.400M18.200 15H7.800l2.800 2.400" fill="none" stroke="#7386c4" stroke-width="1.25" stroke-linecap="round" stroke-linejoin="round" opacity=".8"/></svg></div>
<div class="t nl" style="left:193.2px;top:327.24px;font-size:6.6px;line-height:7.92px;color:#a0a1a6;letter-spacing:0.037px;transform:translateX(-50%);text-align:center;">Nurse Shifting</div>
<div class="ni" style="left:253.3px;top:297.7px;width:26px;height:26px"><svg viewBox="0 0 26 26" width="26" height="26"><rect x="8" y="8" width="10" height="11" rx="1.400" fill="none" stroke="#7386c4" stroke-width="1.25" stroke-linecap="round" stroke-linejoin="round"/><path d="M10.4 6.900v2.200M15.600 6.900v2.200M10.200 14h5.600M10.200 16.500h5.600M13 10.600v2" fill="none" stroke="#7386c4" stroke-width="1.25" stroke-linecap="round" stroke-linejoin="round"/></svg></div>
<div class="t nl" style="left:267.5px;top:327.24px;font-size:6.6px;line-height:7.92px;color:#a0a1a6;letter-spacing:-0.051px;transform:translateX(-50%);text-align:center;">Paramedic Schedule</div>
<div class="ni" style="left:327.7px;top:297.7px;width:26px;height:26px"><svg viewBox="0 0 26 26" width="26" height="26"><path d="M9.600 8.300A6 6 0 1 0 13 7.200" fill="none" stroke="#7386c4" stroke-width="1.25" stroke-linecap="round" stroke-linejoin="round"/><path d="M13 13.200l-2.700-3" fill="none" stroke="#7386c4" stroke-width="1.25" stroke-linecap="round" stroke-linejoin="round"/></svg></div>
<div class="t nl" style="left:342.1px;top:327.24px;font-size:6.6px;line-height:7.92px;color:#a0a1a6;letter-spacing:0.122px;transform:translateX(-50%);text-align:center;">Vital Sign Monitoring</div>
<div class="ni on" style="left:404.6px;top:297.7px;width:26px;height:26px"><svg viewBox="0 0 26 26" width="26" height="26"><path d="M9.200 7.200h7.600v8.600c0 1.400-1.500 2.200-3.800 3.400-2.300-1.200-3.800-2-3.800-3.400z" fill="none" stroke="#b9d3f1" stroke-width="1.25" stroke-linecap="round" stroke-linejoin="round"/><path d="M13 7.400v3" fill="none" stroke="#b9d3f1" stroke-width="1.25" stroke-linecap="round" stroke-linejoin="round"/></svg></div>
<div class="t nl" style="left:416.6px;top:327.24px;font-size:6.6px;line-height:7.92px;color:#5590d0;letter-spacing:0.045px;transform:translateX(-50%);text-align:center;">Transfusion Detection</div>
<div class="ni" style="left:478.3px;top:297.7px;width:26px;height:26px"><svg viewBox="0 0 26 26" width="26" height="26"><circle cx="10.400" cy="17" r="2" fill="none" stroke="#7386c4" stroke-width="1.25" stroke-linecap="round" stroke-linejoin="round"/><circle cx="15.600" cy="17" r="2" fill="none" stroke="#7386c4" stroke-width="1.25" stroke-linecap="round" stroke-linejoin="round"/><path d="M11.400 15.300l4-8.300M14.600 15.300l-4-8.300" fill="none" stroke="#7386c4" stroke-width="1.25" stroke-linecap="round" stroke-linejoin="round"/></svg></div>
<div class="t nl" style="left:491.3px;top:327.24px;font-size:6.6px;line-height:7.92px;color:#a0a1a6;letter-spacing:0.117px;transform:translateX(-50%);text-align:center;">Surgery Monitoring</div>
<div class="ni" style="left:553.8px;top:297.7px;width:26px;height:26px"><svg viewBox="0 0 26 26" width="26" height="26"><path d="M7.600 8.400h10.800v7.600h-4l-1.400 1.600-1.400-1.600h-4z" fill="none" stroke="#7386c4" stroke-width="1.25" stroke-linecap="round" stroke-linejoin="round"/><path d="M9.800 11h6.400M9.800 13.400h3.600" fill="none" stroke="#7386c4" stroke-width="1.25" stroke-linecap="round" stroke-linejoin="round"/></svg></div>
<div class="t nl" style="left:565.8px;top:327.24px;font-size:6.6px;line-height:7.92px;color:#a0a1a6;letter-spacing:0.180px;transform:translateX(-50%);text-align:center;">Notification Publicity</div></div></section>
<section class="frame std" style="left:904px;top:49px"><div class="screen"><svg class="wedge" viewBox="0 0 606 340" width="606" height="340"><defs><linearGradient id="wgb" x1="0" x2="1" y1="0" y2="0"><stop offset="0" stop-color="#c6cace"/><stop offset=".06" stop-color="#dcdfe2"/><stop offset=".2" stop-color="#e9eaec"/><stop offset="1" stop-color="#e3e4e6"/></linearGradient></defs><polygon points="0,50.500 249,299.500 0,299.500" fill="url(#wgb)"/></svg>
<div class="t logo" style="left:19.2px;top:11.46px;font-size:14.4px;line-height:17.28px;color:rgba(255,255,255,.93);font-weight:500;transform:scaleY(.92);">清钼</div>
<div class="t hd" style="left:64.4px;top:15.16px;font-size:10.4px;line-height:12.48px;color:#eaf7ff;letter-spacing:-0.422px;">Indoor Temp&nbsp; 26</div>
<div class="t hd" style="left:179.9px;top:15.76px;font-size:10.4px;line-height:12.48px;color:#eaf7ff;letter-spacing:-0.768px;">co2&nbsp; 600</div>
<div class="t hd" style="left:233.4px;top:15.16px;font-size:10.4px;line-height:12.48px;color:#eaf7ff;letter-spacing:-0.702px;">pm2.5&nbsp; 55</div>
<div class="t hd" style="left:290.5px;top:15.16px;font-size:10.4px;line-height:12.48px;color:#eaf7ff;letter-spacing:-0.565px;">Air Quality:&nbsp; Fine</div>
<div class="t hd" style="left:455.6px;top:13.14px;font-size:12.1px;line-height:14.52px;color:#eaf7ff;letter-spacing:-0.583px;">30th July&nbsp; Friday</div>
<div class="t hd" style="left:542.0px;top:13.92px;font-size:12.3px;line-height:14.76px;color:#eaf7ff;letter-spacing:-1.070px;">13:00</div>
<div class="b dot" style="left:579.1px;top:16.1px;width:10.4px;height:10.4px;"></div>
<div class="b card" style="left:14.3px;top:38.2px;width:113.8px;height:82.0px;"></div>
<div class="t" style="left:20.9px;top:44.74px;font-size:10.6px;line-height:12.72px;color:#93b3c2;letter-spacing:-0.622px;">ORI</div>
<div class="t" style="left:121.3px;top:45.14px;font-size:9.6px;line-height:11.52px;color:#9a9a9a;transform:translateX(-100%);text-align:right;">Unused</div>
<div class="t" style="left:18.7px;top:61.74px;font-size:7.6px;line-height:9.12px;color:#454545;letter-spacing:-0.169px;">Surgery Appointments</div>
<div class="t" style="left:20.1px;top:74.24px;font-size:5.6px;line-height:6.72px;color:#848484;letter-spacing:0.166px;">01</div>
<div class="t" style="left:40.7px;top:74.24px;font-size:5.6px;line-height:6.72px;color:#848484;letter-spacing:0.411px;">Mac</div>
<div class="t" style="left:73.1px;top:74.24px;font-size:5.6px;line-height:6.72px;color:#848484;letter-spacing:0.050px;">14:00</div>
<div class="t" style="left:20.1px;top:83.46px;font-size:5.6px;line-height:6.72px;color:#848484;letter-spacing:0.166px;">02</div>
<div class="t" style="left:40.7px;top:83.46px;font-size:5.6px;line-height:6.72px;color:#848484;letter-spacing:0.411px;">Mac</div>
<div class="t" style="left:73.1px;top:83.46px;font-size:5.6px;line-height:6.72px;color:#848484;letter-spacing:0.050px;">15:00</div>
<div class="t" style="left:20.1px;top:92.68px;font-size:5.6px;line-height:6.72px;color:#848484;letter-spacing:0.166px;">03</div>
<div class="t" style="left:40.7px;top:92.68px;font-size:5.6px;line-height:6.72px;color:#848484;letter-spacing:0.411px;">Mac</div>
<div class="t" style="left:73.1px;top:92.68px;font-size:5.6px;line-height:6.72px;color:#848484;letter-spacing:0.050px;">16:40</div>
<div class="t" style="left:20.1px;top:101.9px;font-size:5.6px;line-height:6.72px;color:#848484;letter-spacing:0.166px;">04</div>
<div class="t" style="left:40.7px;top:101.9px;font-size:5.6px;line-height:6.72px;color:#848484;letter-spacing:0.411px;">Mac</div>
<div class="t" style="left:73.1px;top:101.9px;font-size:5.6px;line-height:6.72px;color:#848484;letter-spacing:0.050px;">18:00</div>
<div class="tri" style="left:19.9px;top:109.8px"><svg viewBox="0 0 14 6" width="14" height="6"><path d="M.4 4.400l1.800-3 1.800 3z" fill="#d2d2d2"/><path d="M7.400 1.300l2.200 3.300 2.200-3.300z" fill="#2b2b2b"/></svg></div>
<div class="b card" style="left:130.25px;top:38.2px;width:113.8px;height:82.0px;"></div>
<div class="t" style="left:136.85px;top:44.74px;font-size:10.6px;line-height:12.72px;color:#93b3c2;letter-spacing:-0.622px;">ORI</div>
<div class="t" style="left:237.25px;top:45.14px;font-size:9.6px;line-height:11.52px;color:#c9506f;transform:translateX(-100%);text-align:right;">Active</div>
<div class="t" style="left:134.65px;top:61.74px;font-size:7.6px;line-height:9.12px;color:#454545;letter-spacing:-0.169px;">Surgery Appointments</div>
<div class="t" style="left:136.05px;top:74.24px;font-size:5.6px;line-height:6.72px;color:#e2334f;font-weight:700;letter-spacing:0.166px;">01</div>
<div class="t" style="left:156.65px;top:74.24px;font-size:5.6px;line-height:6.72px;color:#e2334f;font-weight:700;letter-spacing:0.255px;">Mac</div>
<div class="t" style="left:189.05px;top:74.24px;font-size:5.6px;line-height:6.72px;color:#e2334f;font-weight:700;letter-spacing:-0.028px;">14:00</div>
<div class="t" style="left:136.05px;top:83.46px;font-size:5.6px;line-height:6.72px;color:#848484;letter-spacing:0.166px;">02</div>
<div class="t" style="left:156.65px;top:83.46px;font-size:5.6px;line-height:6.72px;color:#848484;letter-spacing:0.411px;">Mac</div>
<div class="t" style="left:189.05px;top:83.46px;font-size:5.6px;line-height:6.72px;color:#848484;letter-spacing:0.050px;">15:00</div>
<div class="t" style="left:136.05px;top:92.68px;font-size:5.6px;line-height:6.72px;color:#848484;letter-spacing:0.166px;">03</div>
<div class="t" style="left:156.65px;top:92.68px;font-size:5.6px;line-height:6.72px;color:#848484;letter-spacing:0.411px;">Mac</div>
<div class="t" style="left:189.05px;top:92.68px;font-size:5.6px;line-height:6.72px;color:#848484;letter-spacing:0.050px;">16:40</div>
<div class="t" style="left:136.05px;top:101.9px;font-size:5.6px;line-height:6.72px;color:#848484;letter-spacing:0.166px;">04</div>
<div class="t" style="left:156.65px;top:101.9px;font-size:5.6px;line-height:6.72px;color:#848484;letter-spacing:0.411px;">Mac</div>
<div class="t" style="left:189.05px;top:101.9px;font-size:5.6px;line-height:6.72px;color:#848484;letter-spacing:0.050px;">18:00</div>
<div class="tri" style="left:135.85px;top:109.8px"><svg viewBox="0 0 14 6" width="14" height="6"><path d="M.4 4.400l1.800-3 1.800 3z" fill="#d2d2d2"/><path d="M7.400 1.300l2.200 3.300 2.200-3.300z" fill="#2b2b2b"/></svg></div>
<div class="b card" style="left:246.2px;top:38.2px;width:113.8px;height:82.0px;"></div>
<div class="t" style="left:252.8px;top:44.74px;font-size:10.6px;line-height:12.72px;color:#93b3c2;letter-spacing:-0.622px;">ORI</div>
<div class="t" style="left:353.2px;top:45.14px;font-size:9.6px;line-height:11.52px;color:#8dbfe0;transform:translateX(-100%);text-align:right;">Preparing</div>
<div class="t" style="left:250.6px;top:61.74px;font-size:7.6px;line-height:9.12px;color:#454545;letter-spacing:-0.169px;">Surgery Appointments</div>
<div class="t" style="left:252.0px;top:74.24px;font-size:5.6px;line-height:6.72px;color:#2f9ee6;font-weight:700;letter-spacing:0.166px;">01</div>
<div class="t" style="left:272.6px;top:74.24px;font-size:5.6px;line-height:6.72px;color:#2f9ee6;font-weight:700;letter-spacing:0.255px;">Mac</div>
<div class="t" style="left:305.0px;top:74.24px;font-size:5.6px;line-height:6.72px;color:#2f9ee6;font-weight:700;letter-spacing:-0.028px;">14:00</div>
<div class="t" style="left:252.0px;top:83.46px;font-size:5.6px;line-height:6.72px;color:#848484;letter-spacing:0.166px;">02</div>
<div class="t" style="left:272.6px;top:83.46px;font-size:5.6px;line-height:6.72px;color:#848484;letter-spacing:0.411px;">Mac</div>
<div class="t" style="left:305.0px;top:83.46px;font-size:5.6px;line-height:6.72px;color:#848484;letter-spacing:0.050px;">15:00</div>
<div class="t" style="left:252.0px;top:92.68px;font-size:5.6px;line-height:6.72px;color:#848484;letter-spacing:0.166px;">03</div>
<div class="t" style="left:272.6px;top:92.68px;font-size:5.6px;line-height:6.72px;color:#848484;letter-spacing:0.411px;">Mac</div>
<div class="t" style="left:305.0px;top:92.68px;font-size:5.6px;line-height:6.72px;color:#848484;letter-spacing:0.050px;">16:40</div>
<div class="t" style="left:252.0px;top:101.9px;font-size:5.6px;line-height:6.72px;color:#848484;letter-spacing:0.166px;">04</div>
<div class="t" style="left:272.6px;top:101.9px;font-size:5.6px;line-height:6.72px;color:#848484;letter-spacing:0.411px;">Mac</div>
<div class="t" style="left:305.0px;top:101.9px;font-size:5.6px;line-height:6.72px;color:#848484;letter-spacing:0.050px;">18:00</div>
<div class="tri" style="left:251.8px;top:109.8px"><svg viewBox="0 0 14 6" width="14" height="6"><path d="M.4 4.400l1.800-3 1.800 3z" fill="#d2d2d2"/><path d="M7.400 1.300l2.200 3.300 2.200-3.300z" fill="#2b2b2b"/></svg></div>
<div class="b card" style="left:362.15px;top:38.2px;width:113.8px;height:82.0px;"></div>
<div class="t" style="left:368.75px;top:44.74px;font-size:10.6px;line-height:12.72px;color:#93b3c2;letter-spacing:-0.622px;">ORI</div>
<div class="t" style="left:469.15px;top:45.14px;font-size:9.6px;line-height:11.52px;color:#c9506f;transform:translateX(-100%);text-align:right;">Active</div>
<div class="t" style="left:366.55px;top:61.74px;font-size:7.6px;line-height:9.12px;color:#454545;letter-spacing:-0.169px;">Surgery Appointments</div>
<div class="t" style="left:367.95px;top:74.24px;font-size:5.6px;line-height:6.72px;color:#e2334f;font-weight:700;letter-spacing:0.166px;">01</div>
<div class="t" style="left:388.55px;top:74.24px;font-size:5.6px;line-height:6.72px;color:#e2334f;font-weight:700;letter-spacing:0.255px;">Mac</div>
<div class="t" style="left:420.95px;top:74.24px;font-size:5.6px;line-height:6.72px;color:#e2334f;font-weight:700;letter-spacing:-0.028px;">14:00</div>
<div class="t" style="left:367.95px;top:83.46px;font-size:5.6px;line-height:6.72px;color:#848484;letter-spacing:0.166px;">02</div>
<div class="t" style="left:388.55px;top:83.46px;font-size:5.6px;line-height:6.72px;color:#848484;letter-spacing:0.411px;">Mac</div>
<div class="t" style="left:420.95px;top:83.46px;font-size:5.6px;line-height:6.72px;color:#848484;letter-spacing:0.050px;">15:00</div>
<div class="t" style="left:367.95px;top:92.68px;font-size:5.6px;line-height:6.72px;color:#848484;letter-spacing:0.166px;">03</div>
<div class="t" style="left:388.55px;top:92.68px;font-size:5.6px;line-height:6.72px;color:#848484;letter-spacing:0.411px;">Mac</div>
<div class="t" style="left:420.95px;top:92.68px;font-size:5.6px;line-height:6.72px;color:#848484;letter-spacing:0.050px;">16:40</div>
<div class="t" style="left:367.95px;top:101.9px;font-size:5.6px;line-height:6.72px;color:#848484;letter-spacing:0.166px;">04</div>
<div class="t" style="left:388.55px;top:101.9px;font-size:5.6px;line-height:6.72px;color:#848484;letter-spacing:0.411px;">Mac</div>
<div class="t" style="left:420.95px;top:101.9px;font-size:5.6px;line-height:6.72px;color:#848484;letter-spacing:0.050px;">18:00</div>
<div class="tri" style="left:367.75px;top:109.8px"><svg viewBox="0 0 14 6" width="14" height="6"><path d="M.4 4.400l1.800-3 1.800 3z" fill="#d2d2d2"/><path d="M7.400 1.300l2.200 3.300 2.200-3.300z" fill="#2b2b2b"/></svg></div>
<div class="b card" style="left:478.1px;top:38.2px;width:113.8px;height:82.0px;"></div>
<div class="t" style="left:484.7px;top:44.74px;font-size:10.6px;line-height:12.72px;color:#93b3c2;letter-spacing:-0.622px;">ORI</div>
<div class="t" style="left:585.1px;top:45.14px;font-size:9.6px;line-height:11.52px;color:#8dbfe0;transform:translateX(-100%);text-align:right;">Preparing</div>
<div class="t" style="left:482.5px;top:61.74px;font-size:7.6px;line-height:9.12px;color:#454545;letter-spacing:-0.169px;">Surgery Appointments</div>
<div class="t" style="left:483.9px;top:74.24px;font-size:5.6px;line-height:6.72px;color:#2f9ee6;font-weight:700;letter-spacing:0.166px;">01</div>
<div class="t" style="left:504.5px;top:74.24px;font-size:5.6px;line-height:6.72px;color:#2f9ee6;font-weight:700;letter-spacing:0.255px;">Mac</div>
<div class="t" style="left:536.9px;top:74.24px;font-size:5.6px;line-height:6.72px;color:#2f9ee6;font-weight:700;letter-spacing:-0.028px;">14:00</div>
<div class="t" style="left:483.9px;top:83.46px;font-size:5.6px;line-height:6.72px;color:#848484;letter-spacing:0.166px;">02</div>
<div class="t" style="left:504.5px;top:83.46px;font-size:5.6px;line-height:6.72px;color:#848484;letter-spacing:0.411px;">Mac</div>
<div class="t" style="left:536.9px;top:83.46px;font-size:5.6px;line-height:6.72px;color:#848484;letter-spacing:0.050px;">15:00</div>
<div class="t" style="left:483.9px;top:92.68px;font-size:5.6px;line-height:6.72px;color:#848484;letter-spacing:0.166px;">03</div>
<div class="t" style="left:504.5px;top:92.68px;font-size:5.6px;line-height:6.72px;color:#848484;letter-spacing:0.411px;">Mac</div>
<div class="t" style="left:536.9px;top:92.68px;font-size:5.6px;line-height:6.72px;color:#848484;letter-spacing:0.050px;">16:40</div>
<div class="t" style="left:483.9px;top:101.9px;font-size:5.6px;line-height:6.72px;color:#848484;letter-spacing:0.166px;">04</div>
<div class="t" style="left:504.5px;top:101.9px;font-size:5.6px;line-height:6.72px;color:#848484;letter-spacing:0.411px;">Mac</div>
<div class="t" style="left:536.9px;top:101.9px;font-size:5.6px;line-height:6.72px;color:#848484;letter-spacing:0.050px;">18:00</div>
<div class="tri" style="left:483.7px;top:109.8px"><svg viewBox="0 0 14 6" width="14" height="6"><path d="M.4 4.400l1.800-3 1.800 3z" fill="#d2d2d2"/><path d="M7.400 1.300l2.200 3.300 2.200-3.300z" fill="#2b2b2b"/></svg></div>
<div class="b card" style="left:14.3px;top:122.7px;width:113.8px;height:82.0px;"></div>
<div class="t" style="left:20.9px;top:129.24px;font-size:10.6px;line-height:12.72px;color:#93b3c2;letter-spacing:-0.622px;">ORI</div>
<div class="t" style="left:121.3px;top:129.64px;font-size:9.6px;line-height:11.52px;color:#9a9a9a;transform:translateX(-100%);text-align:right;">Unused</div>
<div class="t" style="left:18.7px;top:146.24px;font-size:7.6px;line-height:9.12px;color:#454545;letter-spacing:-0.169px;">Surgery Appointments</div>
<div class="t" style="left:20.1px;top:158.74px;font-size:5.6px;line-height:6.72px;color:#848484;letter-spacing:0.166px;">01</div>
<div class="t" style="left:40.7px;top:158.74px;font-size:5.6px;line-height:6.72px;color:#848484;letter-spacing:0.411px;">Mac</div>
<div class="t" style="left:73.1px;top:158.74px;font-size:5.6px;line-height:6.72px;color:#848484;letter-spacing:0.050px;">14:00</div>
<div class="t" style="left:20.1px;top:167.96px;font-size:5.6px;line-height:6.72px;color:#848484;letter-spacing:0.166px;">02</div>
<div class="t" style="left:40.7px;top:167.96px;font-size:5.6px;line-height:6.72px;color:#848484;letter-spacing:0.411px;">Mac</div>
<div class="t" style="left:73.1px;top:167.96px;font-size:5.6px;line-height:6.72px;color:#848484;letter-spacing:0.050px;">15:00</div>
<div class="t" style="left:20.1px;top:177.18px;font-size:5.6px;line-height:6.72px;color:#848484;letter-spacing:0.166px;">03</div>
<div class="t" style="left:40.7px;top:177.18px;font-size:5.6px;line-height:6.72px;color:#848484;letter-spacing:0.411px;">Mac</div>
<div class="t" style="left:73.1px;top:177.18px;font-size:5.6px;line-height:6.72px;color:#848484;letter-spacing:0.050px;">16:40</div>
<div class="t" style="left:20.1px;top:186.4px;font-size:5.6px;line-height:6.72px;color:#848484;letter-spacing:0.166px;">04</div>
<div class="t" style="left:40.7px;top:186.4px;font-size:5.6px;line-height:6.72px;color:#848484;letter-spacing:0.411px;">Mac</div>
<div class="t" style="left:73.1px;top:186.4px;font-size:5.6px;line-height:6.72px;color:#848484;letter-spacing:0.050px;">18:00</div>
<div class="tri" style="left:19.9px;top:194.3px"><svg viewBox="0 0 14 6" width="14" height="6"><path d="M.4 4.400l1.800-3 1.800 3z" fill="#d2d2d2"/><path d="M7.400 1.300l2.200 3.300 2.200-3.300z" fill="#2b2b2b"/></svg></div>
<div class="b card" style="left:130.25px;top:122.7px;width:113.8px;height:82.0px;"></div>
<div class="t" style="left:136.85px;top:129.24px;font-size:10.6px;line-height:12.72px;color:#93b3c2;letter-spacing:-0.622px;">ORI</div>
<div class="t" style="left:237.25px;top:129.64px;font-size:9.6px;line-height:11.52px;color:#9a9a9a;transform:translateX(-100%);text-align:right;">Unused</div>
<div class="t" style="left:134.65px;top:146.24px;font-size:7.6px;line-height:9.12px;color:#454545;letter-spacing:-0.169px;">Surgery Appointments</div>
<div class="t" style="left:136.05px;top:158.74px;font-size:5.6px;line-height:6.72px;color:#848484;letter-spacing:0.166px;">01</div>
<div class="t" style="left:156.65px;top:158.74px;font-size:5.6px;line-height:6.72px;color:#848484;letter-spacing:0.411px;">Mac</div>
<div class="t" style="left:189.05px;top:158.74px;font-size:5.6px;line-height:6.72px;color:#848484;letter-spacing:0.050px;">14:00</div>
<div class="t" style="left:136.05px;top:167.96px;font-size:5.6px;line-height:6.72px;color:#848484;letter-spacing:0.166px;">02</div>
<div class="t" style="left:156.65px;top:167.96px;font-size:5.6px;line-height:6.72px;color:#848484;letter-spacing:0.411px;">Mac</div>
<div class="t" style="left:189.05px;top:167.96px;font-size:5.6px;line-height:6.72px;color:#848484;letter-spacing:0.050px;">15:00</div>
<div class="t" style="left:136.05px;top:177.18px;font-size:5.6px;line-height:6.72px;color:#848484;letter-spacing:0.166px;">03</div>
<div class="t" style="left:156.65px;top:177.18px;font-size:5.6px;line-height:6.72px;color:#848484;letter-spacing:0.411px;">Mac</div>
<div class="t" style="left:189.05px;top:177.18px;font-size:5.6px;line-height:6.72px;color:#848484;letter-spacing:0.050px;">16:40</div>
<div class="t" style="left:136.05px;top:186.4px;font-size:5.6px;line-height:6.72px;color:#848484;letter-spacing:0.166px;">04</div>
<div class="t" style="left:156.65px;top:186.4px;font-size:5.6px;line-height:6.72px;color:#848484;letter-spacing:0.411px;">Mac</div>
<div class="t" style="left:189.05px;top:186.4px;font-size:5.6px;line-height:6.72px;color:#848484;letter-spacing:0.050px;">18:00</div>
<div class="tri" style="left:135.85px;top:194.3px"><svg viewBox="0 0 14 6" width="14" height="6"><path d="M.4 4.400l1.800-3 1.800 3z" fill="#d2d2d2"/><path d="M7.400 1.300l2.200 3.300 2.200-3.300z" fill="#2b2b2b"/></svg></div>
<div class="b card" style="left:246.2px;top:122.7px;width:113.8px;height:82.0px;"></div>
<div class="t" style="left:252.8px;top:129.24px;font-size:10.6px;line-height:12.72px;color:#93b3c2;letter-spacing:-0.622px;">ORI</div>
<div class="t" style="left:353.2px;top:129.64px;font-size:9.6px;line-height:11.52px;color:#9a9a9a;transform:translateX(-100%);text-align:right;">Unused</div>
<div class="t" style="left:250.6px;top:146.24px;font-size:7.6px;line-height:9.12px;color:#454545;letter-spacing:-0.169px;">Surgery Appointments</div>
<div class="t" style="left:252.0px;top:158.74px;font-size:5.6px;line-height:6.72px;color:#848484;letter-spacing:0.166px;">01</div>
<div class="t" style="left:272.6px;top:158.74px;font-size:5.6px;line-height:6.72px;color:#848484;letter-spacing:0.411px;">Mac</div>
<div class="t" style="left:305.0px;top:158.74px;font-size:5.6px;line-height:6.72px;color:#848484;letter-spacing:0.050px;">14:00</div>
<div class="t" style="left:252.0px;top:167.96px;font-size:5.6px;line-height:6.72px;color:#848484;letter-spacing:0.166px;">02</div>
<div class="t" style="left:272.6px;top:167.96px;font-size:5.6px;line-height:6.72px;color:#848484;letter-spacing:0.411px;">Mac</div>
<div class="t" style="left:305.0px;top:167.96px;font-size:5.6px;line-height:6.72px;color:#848484;letter-spacing:0.050px;">15:00</div>
<div class="t" style="left:252.0px;top:177.18px;font-size:5.6px;line-height:6.72px;color:#848484;letter-spacing:0.166px;">03</div>
<div class="t" style="left:272.6px;top:177.18px;font-size:5.6px;line-height:6.72px;color:#848484;letter-spacing:0.411px;">Mac</div>
<div class="t" style="left:305.0px;top:177.18px;font-size:5.6px;line-height:6.72px;color:#848484;letter-spacing:0.050px;">16:40</div>
<div class="t" style="left:252.0px;top:186.4px;font-size:5.6px;line-height:6.72px;color:#848484;letter-spacing:0.166px;">04</div>
<div class="t" style="left:272.6px;top:186.4px;font-size:5.6px;line-height:6.72px;color:#848484;letter-spacing:0.411px;">Mac</div>
<div class="t" style="left:305.0px;top:186.4px;font-size:5.6px;line-height:6.72px;color:#848484;letter-spacing:0.050px;">18:00</div>
<div class="tri" style="left:251.8px;top:194.3px"><svg viewBox="0 0 14 6" width="14" height="6"><path d="M.4 4.400l1.800-3 1.800 3z" fill="#d2d2d2"/><path d="M7.400 1.300l2.200 3.300 2.200-3.300z" fill="#2b2b2b"/></svg></div>
<div class="b card" style="left:362.15px;top:122.7px;width:113.8px;height:82.0px;"></div>
<div class="t" style="left:368.75px;top:129.24px;font-size:10.6px;line-height:12.72px;color:#93b3c2;letter-spacing:-0.622px;">ORI</div>
<div class="t" style="left:469.15px;top:129.64px;font-size:9.6px;line-height:11.52px;color:#9a9a9a;transform:translateX(-100%);text-align:right;">Unused</div>
<div class="t" style="left:366.55px;top:146.24px;font-size:7.6px;line-height:9.12px;color:#454545;letter-spacing:-0.169px;">Surgery Appointments</div>
<div class="t" style="left:367.95px;top:158.74px;font-size:5.6px;line-height:6.72px;color:#848484;letter-spacing:0.166px;">01</div>
<div class="t" style="left:388.55px;top:158.74px;font-size:5.6px;line-height:6.72px;color:#848484;letter-spacing:0.411px;">Mac</div>
<div class="t" style="left:420.95px;top:158.74px;font-size:5.6px;line-height:6.72px;color:#848484;letter-spacing:0.050px;">14:00</div>
<div class="t" style="left:367.95px;top:167.96px;font-size:5.6px;line-height:6.72px;color:#848484;letter-spacing:0.166px;">02</div>
<div class="t" style="left:388.55px;top:167.96px;font-size:5.6px;line-height:6.72px;color:#848484;letter-spacing:0.411px;">Mac</div>
<div class="t" style="left:420.95px;top:167.96px;font-size:5.6px;line-height:6.72px;color:#848484;letter-spacing:0.050px;">15:00</div>
<div class="t" style="left:367.95px;top:177.18px;font-size:5.6px;line-height:6.72px;color:#848484;letter-spacing:0.166px;">03</div>
<div class="t" style="left:388.55px;top:177.18px;font-size:5.6px;line-height:6.72px;color:#848484;letter-spacing:0.411px;">Mac</div>
<div class="t" style="left:420.95px;top:177.18px;font-size:5.6px;line-height:6.72px;color:#848484;letter-spacing:0.050px;">16:40</div>
<div class="t" style="left:367.95px;top:186.4px;font-size:5.6px;line-height:6.72px;color:#848484;letter-spacing:0.166px;">04</div>
<div class="t" style="left:388.55px;top:186.4px;font-size:5.6px;line-height:6.72px;color:#848484;letter-spacing:0.411px;">Mac</div>
<div class="t" style="left:420.95px;top:186.4px;font-size:5.6px;line-height:6.72px;color:#848484;letter-spacing:0.050px;">18:00</div>
<div class="tri" style="left:367.75px;top:194.3px"><svg viewBox="0 0 14 6" width="14" height="6"><path d="M.4 4.400l1.800-3 1.800 3z" fill="#d2d2d2"/><path d="M7.400 1.300l2.200 3.300 2.200-3.300z" fill="#2b2b2b"/></svg></div>
<div class="b card" style="left:478.1px;top:122.7px;width:113.8px;height:82.0px;"></div>
<div class="t" style="left:484.7px;top:129.24px;font-size:10.6px;line-height:12.72px;color:#93b3c2;letter-spacing:-0.622px;">ORI</div>
<div class="t" style="left:585.1px;top:129.64px;font-size:9.6px;line-height:11.52px;color:#9a9a9a;transform:translateX(-100%);text-align:right;">Unused</div>
<div class="t" style="left:482.5px;top:146.24px;font-size:7.6px;line-height:9.12px;color:#454545;letter-spacing:-0.169px;">Surgery Appointments</div>
<div class="t" style="left:483.9px;top:158.74px;font-size:5.6px;line-height:6.72px;color:#848484;letter-spacing:0.166px;">01</div>
<div class="t" style="left:504.5px;top:158.74px;font-size:5.6px;line-height:6.72px;color:#848484;letter-spacing:0.411px;">Mac</div>
<div class="t" style="left:536.9px;top:158.74px;font-size:5.6px;line-height:6.72px;color:#848484;letter-spacing:0.050px;">14:00</div>
<div class="t" style="left:483.9px;top:167.96px;font-size:5.6px;line-height:6.72px;color:#848484;letter-spacing:0.166px;">02</div>
<div class="t" style="left:504.5px;top:167.96px;font-size:5.6px;line-height:6.72px;color:#848484;letter-spacing:0.411px;">Mac</div>
<div class="t" style="left:536.9px;top:167.96px;font-size:5.6px;line-height:6.72px;color:#848484;letter-spacing:0.050px;">15:00</div>
<div class="t" style="left:483.9px;top:177.18px;font-size:5.6px;line-height:6.72px;color:#848484;letter-spacing:0.166px;">03</div>
<div class="t" style="left:504.5px;top:177.18px;font-size:5.6px;line-height:6.72px;color:#848484;letter-spacing:0.411px;">Mac</div>
<div class="t" style="left:536.9px;top:177.18px;font-size:5.6px;line-height:6.72px;color:#848484;letter-spacing:0.050px;">16:40</div>
<div class="t" style="left:483.9px;top:186.4px;font-size:5.6px;line-height:6.72px;color:#848484;letter-spacing:0.166px;">04</div>
<div class="t" style="left:504.5px;top:186.4px;font-size:5.6px;line-height:6.72px;color:#848484;letter-spacing:0.411px;">Mac</div>
<div class="t" style="left:536.9px;top:186.4px;font-size:5.6px;line-height:6.72px;color:#848484;letter-spacing:0.050px;">18:00</div>
<div class="tri" style="left:483.7px;top:194.3px"><svg viewBox="0 0 14 6" width="14" height="6"><path d="M.4 4.400l1.800-3 1.800 3z" fill="#d2d2d2"/><path d="M7.400 1.300l2.200 3.300 2.200-3.300z" fill="#2b2b2b"/></svg></div>
<div class="b card" style="left:14.3px;top:207.2px;width:113.8px;height:82.0px;"></div>
<div class="t" style="left:20.9px;top:213.74px;font-size:10.6px;line-height:12.72px;color:#93b3c2;letter-spacing:-0.622px;">ORI</div>
<div class="t" style="left:121.3px;top:214.14px;font-size:9.6px;line-height:11.52px;color:#9a9a9a;transform:translateX(-100%);text-align:right;">Unused</div>
<div class="t" style="left:18.7px;top:230.74px;font-size:7.6px;line-height:9.12px;color:#454545;letter-spacing:-0.169px;">Surgery Appointments</div>
<div class="t" style="left:20.1px;top:243.24px;font-size:5.6px;line-height:6.72px;color:#848484;letter-spacing:0.166px;">01</div>
<div class="t" style="left:40.7px;top:243.24px;font-size:5.6px;line-height:6.72px;color:#848484;letter-spacing:0.411px;">Mac</div>
<div class="t" style="left:73.1px;top:243.24px;font-size:5.6px;line-height:6.72px;color:#848484;letter-spacing:0.050px;">14:00</div>
<div class="t" style="left:20.1px;top:252.46px;font-size:5.6px;line-height:6.72px;color:#848484;letter-spacing:0.166px;">02</div>
<div class="t" style="left:40.7px;top:252.46px;font-size:5.6px;line-height:6.72px;color:#848484;letter-spacing:0.411px;">Mac</div>
<div class="t" style="left:73.1px;top:252.46px;font-size:5.6px;line-height:6.72px;color:#848484;letter-spacing:0.050px;">15:00</div>
<div class="t" style="left:20.1px;top:261.68px;font-size:5.6px;line-height:6.72px;color:#848484;letter-spacing:0.166px;">03</div>
<div class="t" style="left:40.7px;top:261.68px;font-size:5.6px;line-height:6.72px;color:#848484;letter-spacing:0.411px;">Mac</div>
<div class="t" style="left:73.1px;top:261.68px;font-size:5.6px;line-height:6.72px;color:#848484;letter-spacing:0.050px;">16:40</div>
<div class="t" style="left:20.1px;top:270.9px;font-size:5.6px;line-height:6.72px;color:#848484;letter-spacing:0.166px;">04</div>
<div class="t" style="left:40.7px;top:270.9px;font-size:5.6px;line-height:6.72px;color:#848484;letter-spacing:0.411px;">Mac</div>
<div class="t" style="left:73.1px;top:270.9px;font-size:5.6px;line-height:6.72px;color:#848484;letter-spacing:0.050px;">18:00</div>
<div class="tri" style="left:19.9px;top:278.8px"><svg viewBox="0 0 14 6" width="14" height="6"><path d="M.4 4.400l1.800-3 1.800 3z" fill="#d2d2d2"/><path d="M7.400 1.300l2.200 3.300 2.200-3.300z" fill="#2b2b2b"/></svg></div>
<div class="b card" style="left:130.25px;top:207.2px;width:113.8px;height:82.0px;"></div>
<div class="t" style="left:136.85px;top:213.74px;font-size:10.6px;line-height:12.72px;color:#93b3c2;letter-spacing:-0.622px;">ORI</div>
<div class="t" style="left:237.25px;top:214.14px;font-size:9.6px;line-height:11.52px;color:#9a9a9a;transform:translateX(-100%);text-align:right;">Unused</div>
<div class="t" style="left:134.65px;top:230.74px;font-size:7.6px;line-height:9.12px;color:#454545;letter-spacing:-0.169px;">Surgery Appointments</div>
<div class="t" style="left:136.05px;top:243.24px;font-size:5.6px;line-height:6.72px;color:#848484;letter-spacing:0.166px;">01</div>
<div class="t" style="left:156.65px;top:243.24px;font-size:5.6px;line-height:6.72px;color:#848484;letter-spacing:0.411px;">Mac</div>
<div class="t" style="left:189.05px;top:243.24px;font-size:5.6px;line-height:6.72px;color:#848484;letter-spacing:0.050px;">14:00</div>
<div class="t" style="left:136.05px;top:252.46px;font-size:5.6px;line-height:6.72px;color:#848484;letter-spacing:0.166px;">02</div>
<div class="t" style="left:156.65px;top:252.46px;font-size:5.6px;line-height:6.72px;color:#848484;letter-spacing:0.411px;">Mac</div>
<div class="t" style="left:189.05px;top:252.46px;font-size:5.6px;line-height:6.72px;color:#848484;letter-spacing:0.050px;">15:00</div>
<div class="t" style="left:136.05px;top:261.68px;font-size:5.6px;line-height:6.72px;color:#848484;letter-spacing:0.166px;">03</div>
<div class="t" style="left:156.65px;top:261.68px;font-size:5.6px;line-height:6.72px;color:#848484;letter-spacing:0.411px;">Mac</div>
<div class="t" style="left:189.05px;top:261.68px;font-size:5.6px;line-height:6.72px;color:#848484;letter-spacing:0.050px;">16:40</div>
<div class="t" style="left:136.05px;top:270.9px;font-size:5.6px;line-height:6.72px;color:#848484;letter-spacing:0.166px;">04</div>
<div class="t" style="left:156.65px;top:270.9px;font-size:5.6px;line-height:6.72px;color:#848484;letter-spacing:0.411px;">Mac</div>
<div class="t" style="left:189.05px;top:270.9px;font-size:5.6px;line-height:6.72px;color:#848484;letter-spacing:0.050px;">18:00</div>
<div class="tri" style="left:135.85px;top:278.8px"><svg viewBox="0 0 14 6" width="14" height="6"><path d="M.4 4.400l1.800-3 1.800 3z" fill="#d2d2d2"/><path d="M7.400 1.300l2.200 3.300 2.200-3.300z" fill="#2b2b2b"/></svg></div>
<div class="b card" style="left:246.2px;top:207.2px;width:113.8px;height:82.0px;"></div>
<div class="t" style="left:252.8px;top:213.74px;font-size:10.6px;line-height:12.72px;color:#93b3c2;letter-spacing:-0.622px;">ORI</div>
<div class="t" style="left:353.2px;top:214.14px;font-size:9.6px;line-height:11.52px;color:#9a9a9a;transform:translateX(-100%);text-align:right;">Unused</div>
<div class="t" style="left:250.6px;top:230.74px;font-size:7.6px;line-height:9.12px;color:#454545;letter-spacing:-0.169px;">Surgery Appointments</div>
<div class="t" style="left:252.0px;top:243.24px;font-size:5.6px;line-height:6.72px;color:#848484;letter-spacing:0.166px;">01</div>
<div class="t" style="left:272.6px;top:243.24px;font-size:5.6px;line-height:6.72px;color:#848484;letter-spacing:0.411px;">Mac</div>
<div class="t" style="left:305.0px;top:243.24px;font-size:5.6px;line-height:6.72px;color:#848484;letter-spacing:0.050px;">14:00</div>
<div class="t" style="left:252.0px;top:252.46px;font-size:5.6px;line-height:6.72px;color:#848484;letter-spacing:0.166px;">02</div>
<div class="t" style="left:272.6px;top:252.46px;font-size:5.6px;line-height:6.72px;color:#848484;letter-spacing:0.411px;">Mac</div>
<div class="t" style="left:305.0px;top:252.46px;font-size:5.6px;line-height:6.72px;color:#848484;letter-spacing:0.050px;">15:00</div>
<div class="t" style="left:252.0px;top:261.68px;font-size:5.6px;line-height:6.72px;color:#848484;letter-spacing:0.166px;">03</div>
<div class="t" style="left:272.6px;top:261.68px;font-size:5.6px;line-height:6.72px;color:#848484;letter-spacing:0.411px;">Mac</div>
<div class="t" style="left:305.0px;top:261.68px;font-size:5.6px;line-height:6.72px;color:#848484;letter-spacing:0.050px;">16:40</div>
<div class="t" style="left:252.0px;top:270.9px;font-size:5.6px;line-height:6.72px;color:#848484;letter-spacing:0.166px;">04</div>
<div class="t" style="left:272.6px;top:270.9px;font-size:5.6px;line-height:6.72px;color:#848484;letter-spacing:0.411px;">Mac</div>
<div class="t" style="left:305.0px;top:270.9px;font-size:5.6px;line-height:6.72px;color:#848484;letter-spacing:0.050px;">18:00</div>
<div class="tri" style="left:251.8px;top:278.8px"><svg viewBox="0 0 14 6" width="14" height="6"><path d="M.4 4.400l1.800-3 1.800 3z" fill="#d2d2d2"/><path d="M7.400 1.300l2.200 3.300 2.200-3.300z" fill="#2b2b2b"/></svg></div>
<div class="b card" style="left:362.15px;top:207.2px;width:113.8px;height:82.0px;"></div>
<div class="t" style="left:368.75px;top:213.74px;font-size:10.6px;line-height:12.72px;color:#93b3c2;letter-spacing:-0.622px;">ORI</div>
<div class="t" style="left:469.15px;top:214.14px;font-size:9.6px;line-height:11.52px;color:#9a9a9a;transform:translateX(-100%);text-align:right;">Unused</div>
<div class="t" style="left:366.55px;top:230.74px;font-size:7.6px;line-height:9.12px;color:#454545;letter-spacing:-0.169px;">Surgery Appointments</div>
<div class="t" style="left:367.95px;top:243.24px;font-size:5.6px;line-height:6.72px;color:#848484;letter-spacing:0.166px;">01</div>
<div class="t" style="left:388.55px;top:243.24px;font-size:5.6px;line-height:6.72px;color:#848484;letter-spacing:0.411px;">Mac</div>
<div class="t" style="left:420.95px;top:243.24px;font-size:5.6px;line-height:6.72px;color:#848484;letter-spacing:0.050px;">14:00</div>
<div class="t" style="left:367.95px;top:252.46px;font-size:5.6px;line-height:6.72px;color:#848484;letter-spacing:0.166px;">02</div>
<div class="t" style="left:388.55px;top:252.46px;font-size:5.6px;line-height:6.72px;color:#848484;letter-spacing:0.411px;">Mac</div>
<div class="t" style="left:420.95px;top:252.46px;font-size:5.6px;line-height:6.72px;color:#848484;letter-spacing:0.050px;">15:00</div>
<div class="t" style="left:367.95px;top:261.68px;font-size:5.6px;line-height:6.72px;color:#848484;letter-spacing:0.166px;">03</div>
<div class="t" style="left:388.55px;top:261.68px;font-size:5.6px;line-height:6.72px;color:#848484;letter-spacing:0.411px;">Mac</div>
<div class="t" style="left:420.95px;top:261.68px;font-size:5.6px;line-height:6.72px;color:#848484;letter-spacing:0.050px;">16:40</div>
<div class="t" style="left:367.95px;top:270.9px;font-size:5.6px;line-height:6.72px;color:#848484;letter-spacing:0.166px;">04</div>
<div class="t" style="left:388.55px;top:270.9px;font-size:5.6px;line-height:6.72px;color:#848484;letter-spacing:0.411px;">Mac</div>
<div class="t" style="left:420.95px;top:270.9px;font-size:5.6px;line-height:6.72px;color:#848484;letter-spacing:0.050px;">18:00</div>
<div class="tri" style="left:367.75px;top:278.8px"><svg viewBox="0 0 14 6" width="14" height="6"><path d="M.4 4.400l1.800-3 1.800 3z" fill="#d2d2d2"/><path d="M7.400 1.300l2.200 3.300 2.200-3.300z" fill="#2b2b2b"/></svg></div>
<div class="b card" style="left:478.1px;top:207.2px;width:113.8px;height:82.0px;"></div>
<div class="t" style="left:484.7px;top:213.74px;font-size:10.6px;line-height:12.72px;color:#93b3c2;letter-spacing:-0.622px;">ORI</div>
<div class="t" style="left:585.1px;top:214.14px;font-size:9.6px;line-height:11.52px;color:#9a9a9a;transform:translateX(-100%);text-align:right;">Unused</div>
<div class="t" style="left:482.5px;top:230.74px;font-size:7.6px;line-height:9.12px;color:#454545;letter-spacing:-0.169px;">Surgery Appointments</div>
<div class="t" style="left:483.9px;top:243.24px;font-size:5.6px;line-height:6.72px;color:#848484;letter-spacing:0.166px;">01</div>
<div class="t" style="left:504.5px;top:243.24px;font-size:5.6px;line-height:6.72px;color:#848484;letter-spacing:0.411px;">Mac</div>
<div class="t" style="left:536.9px;top:243.24px;font-size:5.6px;line-height:6.72px;color:#848484;letter-spacing:0.050px;">14:00</div>
<div class="t" style="left:483.9px;top:252.46px;font-size:5.6px;line-height:6.72px;color:#848484;letter-spacing:0.166px;">02</div>
<div class="t" style="left:504.5px;top:252.46px;font-size:5.6px;line-height:6.72px;color:#848484;letter-spacing:0.411px;">Mac</div>
<div class="t" style="left:536.9px;top:252.46px;font-size:5.6px;line-height:6.72px;color:#848484;letter-spacing:0.050px;">15:00</div>
<div class="t" style="left:483.9px;top:261.68px;font-size:5.6px;line-height:6.72px;color:#848484;letter-spacing:0.166px;">03</div>
<div class="t" style="left:504.5px;top:261.68px;font-size:5.6px;line-height:6.72px;color:#848484;letter-spacing:0.411px;">Mac</div>
<div class="t" style="left:536.9px;top:261.68px;font-size:5.6px;line-height:6.72px;color:#848484;letter-spacing:0.050px;">16:40</div>
<div class="t" style="left:483.9px;top:270.9px;font-size:5.6px;line-height:6.72px;color:#848484;letter-spacing:0.166px;">04</div>
<div class="t" style="left:504.5px;top:270.9px;font-size:5.6px;line-height:6.72px;color:#848484;letter-spacing:0.411px;">Mac</div>
<div class="t" style="left:536.9px;top:270.9px;font-size:5.6px;line-height:6.72px;color:#848484;letter-spacing:0.050px;">18:00</div>
<div class="tri" style="left:483.7px;top:278.8px"><svg viewBox="0 0 14 6" width="14" height="6"><path d="M.4 4.400l1.800-3 1.800 3z" fill="#d2d2d2"/><path d="M7.400 1.300l2.200 3.300 2.200-3.300z" fill="#2b2b2b"/></svg></div>
<div class="b navsh" style="left:0px;top:291px;width:606px;height:6px;"></div>
<div class="b nav" style="left:0px;top:296px;width:606px;height:44px;"></div>
<div class="ni" style="left:31.9px;top:297.7px;width:26px;height:26px"><svg viewBox="0 0 26 26" width="26" height="26"><g fill-opacity=".55"><rect x="7" y="7.200" width="5" height="5" rx="1.400" fill="#cfe0fa" stroke="#7386c4" stroke-width="1.25" stroke-linejoin="round"/><circle cx="15.800" cy="9.700" r="2.600" fill="#cfe0fa" stroke="#7386c4" stroke-width="1.25" stroke-linejoin="round"/><rect x="7" y="13.600" width="5" height="5" rx="1.400" fill="#cfe0fa" stroke="#7386c4" stroke-width="1.25" stroke-linejoin="round"/><rect x="13.300" y="13.600" width="5" height="5" rx="1.400" fill="#cfe0fa" stroke="#7386c4" stroke-width="1.25" stroke-linejoin="round"/></g></svg></div>
<div class="t nl" style="left:44.5px;top:327.24px;font-size:6.6px;line-height:7.92px;color:#a0a1a6;letter-spacing:0.031px;transform:translateX(-50%);text-align:center;">Ward Overview</div>
<div class="ni" style="left:105.8px;top:297.7px;width:26px;height:26px"><svg viewBox="0 0 26 26" width="26" height="26"><circle cx="13" cy="9.8" r="2.9" fill="none" stroke="#7386c4" stroke-width="1.25" stroke-linecap="round" stroke-linejoin="round"/><path d="M7.6 18.6c.5-3.6 2.6-5.2 5.4-5.2 1.6 0 2.9.5 3.9 1.500" fill="none" stroke="#7386c4" stroke-width="1.25" stroke-linecap="round" stroke-linejoin="round"/><rect x="14.6" y="15.6" width="3.8" height="3.2" rx=".8" fill="#7386c4"/></svg></div>
<div class="t nl" style="left:118.5px;top:327.24px;font-size:6.6px;line-height:7.92px;color:#a0a1a6;letter-spacing:0.024px;transform:translateX(-50%);text-align:center;">Patient Overview</div>
<div class="ni" style="left:179.8px;top:297.7px;width:26px;height:26px"><svg viewBox="0 0 26 26" width="26" height="26"><path d="M7.800 11h10.400l-2.800-2.400M18.200 15H7.800l2.800 2.400" fill="none" stroke="#7386c4" stroke-width="1.25" stroke-linecap="round" stroke-linejoin="round" opacity=".8"/></svg></div>
<div class="t nl" style="left:193.4px;top:327.24px;font-size:6.6px;line-height:7.92px;color:#a0a1a6;letter-spacing:0.037px;transform:translateX(-50%);text-align:center;">Nurse Shifting</div>
<div class="ni" style="left:253.5px;top:297.7px;width:26px;height:26px"><svg viewBox="0 0 26 26" width="26" height="26"><rect x="8" y="8" width="10" height="11" rx="1.400" fill="none" stroke="#7386c4" stroke-width="1.25" stroke-linecap="round" stroke-linejoin="round"/><path d="M10.4 6.900v2.200M15.600 6.900v2.200M10.200 14h5.600M10.200 16.500h5.600M13 10.600v2" fill="none" stroke="#7386c4" stroke-width="1.25" stroke-linecap="round" stroke-linejoin="round"/></svg></div>
<div class="t nl" style="left:267.7px;top:327.24px;font-size:6.6px;line-height:7.92px;color:#a0a1a6;letter-spacing:-0.051px;transform:translateX(-50%);text-align:center;">Paramedic Schedule</div>
<div class="ni" style="left:327.9px;top:297.7px;width:26px;height:26px"><svg viewBox="0 0 26 26" width="26" height="26"><path d="M9.600 8.300A6 6 0 1 0 13 7.200" fill="none" stroke="#7386c4" stroke-width="1.25" stroke-linecap="round" stroke-linejoin="round"/><path d="M13 13.200l-2.700-3" fill="none" stroke="#7386c4" stroke-width="1.25" stroke-linecap="round" stroke-linejoin="round"/></svg></div>
<div class="t nl" style="left:342.3px;top:327.24px;font-size:6.6px;line-height:7.92px;color:#a0a1a6;letter-spacing:0.122px;transform:translateX(-50%);text-align:center;">Vital Sign Monitoring</div>
<div class="ni" style="left:404.8px;top:297.7px;width:26px;height:26px"><svg viewBox="0 0 26 26" width="26" height="26"><path d="M9.200 7.200h7.600v8.600c0 1.400-1.500 2.200-3.800 3.400-2.300-1.200-3.800-2-3.800-3.400z" fill="none" stroke="#7386c4" stroke-width="1.25" stroke-linecap="round" stroke-linejoin="round"/><path d="M13 7.400v3" fill="none" stroke="#7386c4" stroke-width="1.25" stroke-linecap="round" stroke-linejoin="round"/></svg></div>
<div class="t nl" style="left:416.8px;top:327.24px;font-size:6.6px;line-height:7.92px;color:#a0a1a6;letter-spacing:0.045px;transform:translateX(-50%);text-align:center;">Transfusion Detection</div>
<div class="ni on" style="left:478.5px;top:297.7px;width:26px;height:26px"><svg viewBox="0 0 26 26" width="26" height="26"><circle cx="10.400" cy="17" r="2" fill="none" stroke="#b9d3f1" stroke-width="1.25" stroke-linecap="round" stroke-linejoin="round"/><circle cx="15.600" cy="17" r="2" fill="none" stroke="#b9d3f1" stroke-width="1.25" stroke-linecap="round" stroke-linejoin="round"/><path d="M11.400 15.300l4-8.300M14.600 15.300l-4-8.300" fill="none" stroke="#b9d3f1" stroke-width="1.25" stroke-linecap="round" stroke-linejoin="round"/></svg></div>
<div class="t nl" style="left:491.5px;top:327.24px;font-size:6.6px;line-height:7.92px;color:#5590d0;letter-spacing:0.117px;transform:translateX(-50%);text-align:center;">Surgery Monitoring</div>
<div class="ni" style="left:554.0px;top:297.7px;width:26px;height:26px"><svg viewBox="0 0 26 26" width="26" height="26"><path d="M7.600 8.400h10.800v7.600h-4l-1.400 1.600-1.400-1.600h-4z" fill="none" stroke="#7386c4" stroke-width="1.25" stroke-linecap="round" stroke-linejoin="round"/><path d="M9.800 11h6.400M9.800 13.400h3.600" fill="none" stroke="#7386c4" stroke-width="1.25" stroke-linecap="round" stroke-linejoin="round"/></svg></div>
<div class="t nl" style="left:566.0px;top:327.24px;font-size:6.6px;line-height:7.92px;color:#a0a1a6;letter-spacing:0.180px;transform:translateX(-50%);text-align:center;">Notification Publicity</div></div></section>
<section class="frame blue" style="left:255px;top:458px"><div class="screen"><div class="t logo" style="left:14.6px;top:4.12px;font-size:14.8px;line-height:17.76px;color:rgba(255,255,255,.93);font-weight:500;transform:scaleY(.92);">清钼</div>
<div class="t" style="left:202px;top:8.48px;font-size:10.7px;line-height:12.84px;color:#eef5fc;letter-spacing:-0.609px;">General Surgery&nbsp; (Hepatobiliary and pancreasII)</div>
<div class="t" style="left:543px;top:8.54px;font-size:10.6px;line-height:12.72px;color:#eef5fc;letter-spacing:-0.908px;">Wednesday</div>
<div class="t" style="left:85.7px;top:40.08px;font-size:10.2px;line-height:12.24px;color:#f4f9ff;letter-spacing:-0.563px;">Nurse Status</div>
<div class="t" style="left:349px;top:39.98px;font-size:10.2px;line-height:12.24px;color:#f4f9ff;letter-spacing:-0.241px;">Department Introduction</div>
<div class="b panel" style="left:15.9px;top:57.2px;width:190.8px;height:239.4px;"></div>
<div class="b panel" style="left:213.4px;top:57.2px;width:377.3px;height:177.5px;"></div>
<div class="b panel" style="left:213.4px;top:241.4px;width:377.3px;height:55.5px;"></div>
<div class="b bar" style="left:22.0px;top:61.0px;width:3.2px;height:12.6px;"></div>
<div class="t" style="left:29.0px;top:61.2px;font-size:10.0px;line-height:12.0px;color:#3a90dc;letter-spacing:-0.282px;">Day-shift</div>
<div class="b stripe" style="left:22.2px;top:77.4px;width:177.8px;height:18.6px;"></div>
<div class="b stripe" style="left:22.2px;top:115.4px;width:177.8px;height:18.6px;"></div>
<div class="b stripe" style="left:22.2px;top:153.3px;width:177.8px;height:18.6px;"></div>
<div class="b bar" style="left:22.0px;top:211.4px;width:3.2px;height:12.6px;"></div>
<div class="t" style="left:27.2px;top:211.6px;font-size:10.0px;line-height:12.0px;color:#3a90dc;letter-spacing:-0.217px;">Nigh-shift</div>
<div class="b stripe" style="left:22.2px;top:227.6px;width:177.8px;height:18.8px;"></div>
<div class="b stripe" style="left:22.2px;top:266.0px;width:177.8px;height:18.8px;"></div>
<div class="b lab" style="left:222.6px;top:73.5px;width:48.0px;height:142.1px;"></div>
<div class="t dl" style="left:245.2px;top:75.1px;font-size:5.8px;line-height:6.2px;color:#2e2e2e;letter-spacing:0.245px;transform:translateX(-50%);text-align:center;">Anesthesia<br>Department</div>
<div class="t dn" style="left:305.5px;top:77.1px;font-size:8.5px;line-height:10.2px;color:#4c4c4c;letter-spacing:-0.041px;transform:translateX(-50%);text-align:center;">9212</div>
<div class="t dl" style="left:245.2px;top:94.34px;font-size:5.8px;line-height:6.2px;color:#2e2e2e;letter-spacing:-0.325px;transform:translateX(-50%);text-align:center;">PET-CT</div>
<div class="t dn" style="left:305.5px;top:92.84px;font-size:8.5px;line-height:10.2px;color:#4c4c4c;letter-spacing:-0.041px;transform:translateX(-50%);text-align:center;">9530</div>
<div class="t dl" style="left:245.2px;top:106.58px;font-size:5.8px;line-height:6.2px;color:#2e2e2e;letter-spacing:0.072px;transform:translateX(-50%);text-align:center;">Nurse On-call<br>Room</div>
<div class="t dn" style="left:305.5px;top:108.58px;font-size:8.5px;line-height:10.2px;color:#4c4c4c;letter-spacing:-0.041px;transform:translateX(-50%);text-align:center;">8807</div>
<div class="t dl" style="left:245.2px;top:122.32px;font-size:5.8px;line-height:6.2px;color:#2e2e2e;letter-spacing:-0.222px;transform:translateX(-50%);text-align:center;">Emergent<br>B-ultrasound Room</div>
<div class="t dn" style="left:305.5px;top:124.32px;font-size:8.5px;line-height:10.2px;color:#4c4c4c;letter-spacing:-0.041px;transform:translateX(-50%);text-align:center;">8622</div>
<div class="t dl" style="left:245.2px;top:141.56px;font-size:5.8px;line-height:6.2px;color:#2e2e2e;letter-spacing:-0.293px;transform:translateX(-50%);text-align:center;">Emergency Room</div>
<div class="t dn" style="left:305.5px;top:140.06px;font-size:8.5px;line-height:10.2px;color:#4c4c4c;letter-spacing:0.052px;transform:translateX(-50%);text-align:center;">9149 8509</div>
<div class="t dl" style="left:245.2px;top:153.8px;font-size:5.8px;line-height:6.2px;color:#2e2e2e;letter-spacing:-0.148px;transform:translateX(-50%);text-align:center;">Gastroscope<br>Appointment</div>
<div class="t dn" style="left:305.5px;top:155.8px;font-size:8.5px;line-height:10.2px;color:#4c4c4c;letter-spacing:-0.041px;transform:translateX(-50%);text-align:center;">8602</div>
<div class="t dl" style="left:245.2px;top:173.04px;font-size:5.8px;line-height:6.2px;color:#2e2e2e;letter-spacing:-0.068px;transform:translateX(-50%);text-align:center;">Mortuary</div>
<div class="t dn" style="left:305.5px;top:171.54px;font-size:8.5px;line-height:10.2px;color:#4c4c4c;letter-spacing:-0.041px;transform:translateX(-50%);text-align:center;">8904</div>
<div class="t dl" style="left:245.2px;top:188.78px;font-size:5.8px;line-height:6.2px;color:#2e2e2e;letter-spacing:-0.236px;transform:translateX(-50%);text-align:center;">Observation Room</div>
<div class="t dn" style="left:305.5px;top:187.28px;font-size:8.5px;line-height:10.2px;color:#4c4c4c;letter-spacing:-0.041px;transform:translateX(-50%);text-align:center;">9290</div>
<div class="t dl" style="left:245.2px;top:204.52px;font-size:5.8px;line-height:6.2px;color:#2e2e2e;letter-spacing:-0.373px;transform:translateX(-50%);text-align:center;">Pharmacy</div>
<div class="t dn" style="left:305.5px;top:203.02px;font-size:8.5px;line-height:10.2px;color:#4c4c4c;letter-spacing:0.052px;transform:translateX(-50%);text-align:center;">8656 8657</div>
<div class="b lab" style="left:341.1px;top:73.5px;width:47.8px;height:142.1px;"></div>
<div class="t dl" style="left:364.6px;top:78.6px;font-size:5.8px;line-height:6.2px;color:#2e2e2e;letter-spacing:0.050px;transform:translateX(-50%);text-align:center;">Security</div>
<div class="t dn" style="left:423.8px;top:77.1px;font-size:8.5px;line-height:10.2px;color:#4c4c4c;letter-spacing:0.173px;transform:translateX(-50%);text-align:center;">8110</div>
<div class="t dl" style="left:364.6px;top:94.34px;font-size:5.8px;line-height:6.2px;color:#2e2e2e;letter-spacing:-0.192px;transform:translateX(-50%);text-align:center;">ICU</div>
<div class="t dn" style="left:423.8px;top:92.84px;font-size:8.5px;line-height:10.2px;color:#4c4c4c;letter-spacing:0.052px;transform:translateX(-50%);text-align:center;">9323 9333</div>
<div class="t dl" style="left:364.6px;top:106.58px;font-size:5.8px;line-height:6.2px;color:#2e2e2e;letter-spacing:0.083px;transform:translateX(-50%);text-align:center;">Radiotherapy<br>Appointment</div>
<div class="t dn" style="left:423.8px;top:108.58px;font-size:8.5px;line-height:10.2px;color:#4c4c4c;letter-spacing:-0.041px;transform:translateX(-50%);text-align:center;">9657</div>
<div class="t dl" style="left:364.6px;top:125.82px;font-size:5.8px;line-height:6.2px;color:#2e2e2e;letter-spacing:0.005px;transform:translateX(-50%);text-align:center;">Elevator</div>
<div class="t dn" style="left:423.8px;top:124.32px;font-size:8.5px;line-height:10.2px;color:#4c4c4c;letter-spacing:-0.035px;transform:translateX(-50%);text-align:center;">7001 7002 7024</div>
<div class="t dl" style="left:364.6px;top:141.56px;font-size:5.8px;line-height:6.2px;color:#2e2e2e;letter-spacing:-0.160px;transform:translateX(-50%);text-align:center;">ERCP Room</div>
<div class="t dn" style="left:423.8px;top:140.06px;font-size:8.5px;line-height:10.2px;color:#4c4c4c;letter-spacing:-0.041px;transform:translateX(-50%);text-align:center;">8607</div>
<div class="t dl" style="left:364.6px;top:153.8px;font-size:5.8px;line-height:6.2px;color:#2e2e2e;letter-spacing:0.130px;transform:translateX(-50%);text-align:center;">Maintenance<br>Center</div>
<div class="t dn" style="left:423.8px;top:155.8px;font-size:8.5px;line-height:10.2px;color:#4c4c4c;letter-spacing:0.173px;transform:translateX(-50%);text-align:center;">8911</div>
<div class="t dl" style="left:364.6px;top:173.04px;font-size:5.8px;line-height:6.2px;color:#2e2e2e;letter-spacing:-0.239px;transform:translateX(-50%);text-align:center;">PIVAS</div>
<div class="t dn" style="left:423.8px;top:171.54px;font-size:8.5px;line-height:10.2px;color:#4c4c4c;letter-spacing:-0.041px;transform:translateX(-50%);text-align:center;">5482</div>
<div class="t dl" style="left:364.6px;top:188.78px;font-size:5.8px;line-height:6.2px;color:#2e2e2e;letter-spacing:-0.232px;transform:translateX(-50%);text-align:center;">Inpatient Checkout</div>
<div class="t dn" style="left:423.8px;top:187.28px;font-size:8.5px;line-height:10.2px;color:#4c4c4c;letter-spacing:-0.041px;transform:translateX(-50%);text-align:center;">8730</div>
<div class="t dl" style="left:364.6px;top:204.52px;font-size:5.8px;line-height:6.2px;color:#2e2e2e;letter-spacing:-0.211px;transform:translateX(-50%);text-align:center;">Switchboard</div>
<div class="t dn" style="left:423.8px;top:203.02px;font-size:8.5px;line-height:10.2px;color:#4c4c4c;letter-spacing:-0.041px;transform:translateX(-50%);text-align:center;">8888</div>
<div class="b lab" style="left:459.5px;top:73.5px;width:48.1px;height:125.9px;"></div>
<div class="t dl" style="left:483.2px;top:78.6px;font-size:5.8px;line-height:6.2px;color:#2e2e2e;letter-spacing:0.006px;transform:translateX(-50%);text-align:center;">Support Center</div>
<div class="t dn" style="left:542.4px;top:77.1px;font-size:8.5px;line-height:10.2px;color:#4c4c4c;letter-spacing:-0.041px;transform:translateX(-50%);text-align:center;">8943</div>
<div class="t dl" style="left:483.2px;top:90.84px;font-size:5.8px;line-height:6.2px;color:#2e2e2e;letter-spacing:0.097px;transform:translateX(-50%);text-align:center;">Emergent<br>Electrocardiogram</div>
<div class="t dn" style="left:542.4px;top:92.84px;font-size:8.5px;line-height:10.2px;color:#4c4c4c;letter-spacing:-0.041px;transform:translateX(-50%);text-align:center;">8642</div>
<div class="t dl" style="left:483.2px;top:106.58px;font-size:5.8px;line-height:6.2px;color:#2e2e2e;letter-spacing:0.157px;transform:translateX(-50%);text-align:center;">Hospitalization<br>Management</div>
<div class="t dn" style="left:542.4px;top:108.58px;font-size:8.5px;line-height:10.2px;color:#4c4c4c;letter-spacing:-0.041px;transform:translateX(-50%);text-align:center;">9683</div>
<div class="t dl" style="left:483.2px;top:125.82px;font-size:5.8px;line-height:6.2px;color:#2e2e2e;letter-spacing:0.098px;transform:translateX(-50%);text-align:center;">Pre-operation</div>
<div class="t dn" style="left:542.4px;top:124.32px;font-size:8.5px;line-height:10.2px;color:#4c4c4c;letter-spacing:-0.041px;transform:translateX(-50%);text-align:center;">9662</div>
<div class="t dl" style="left:483.2px;top:141.56px;font-size:5.8px;line-height:6.2px;color:#2e2e2e;letter-spacing:-0.167px;transform:translateX(-50%);text-align:center;">PICC Room</div>
<div class="t dn" style="left:542.4px;top:140.06px;font-size:8.5px;line-height:10.2px;color:#4c4c4c;letter-spacing:-0.041px;transform:translateX(-50%);text-align:center;">9899</div>
<div class="t dl" style="left:483.2px;top:157.3px;font-size:5.8px;line-height:6.2px;color:#2e2e2e;letter-spacing:0.101px;transform:translateX(-50%);text-align:center;">On-call room</div>
<div class="t dn" style="left:542.4px;top:155.8px;font-size:8.5px;line-height:10.2px;color:#4c4c4c;letter-spacing:-0.041px;transform:translateX(-50%);text-align:center;">8801</div>
<div class="t dl" style="left:483.2px;top:173.04px;font-size:5.8px;line-height:6.2px;color:#2e2e2e;letter-spacing:-0.128px;transform:translateX(-50%);text-align:center;">Blood Bank</div>
<div class="t dn" style="left:542.4px;top:171.54px;font-size:8.5px;line-height:10.2px;color:#4c4c4c;letter-spacing:-0.041px;transform:translateX(-50%);text-align:center;">8564</div>
<div class="t dl" style="left:483.2px;top:188.78px;font-size:5.8px;line-height:6.2px;color:#2e2e2e;letter-spacing:-0.340px;transform:translateX(-50%);text-align:center;">Oxygen Cylinder</div>
<div class="t dn" style="left:542.4px;top:187.28px;font-size:8.5px;line-height:10.2px;color:#4c4c4c;letter-spacing:-0.041px;transform:translateX(-50%);text-align:center;">8909</div>
<div class="b bar" style="left:222.4px;top:248.7px;width:3.2px;height:11.9px;"></div>
<div class="t" style="left:230.6px;top:249.28px;font-size:10.2px;line-height:12.24px;color:#3a90dc;letter-spacing:-0.378px;">Doctor On Duty</div>
<div class="b lab" style="left:222.8px;top:264.7px;width:48.3px;height:25.0px;"></div>
<div class="t" style="left:246.1px;top:269.8px;font-size:6.6px;line-height:7.1px;color:#333;font-weight:700;letter-spacing:0.157px;transform:translateX(-50%);text-align:center;">On Duty<br>Todaya</div>
<div class="b gbar" style="left:271.1px;top:264.7px;width:81.3px;height:12.1px;"></div>
<div class="b lab" style="left:355.0px;top:264.7px;width:48.3px;height:25.0px;"></div>
<div class="t" style="left:379.6px;top:269.8px;font-size:6.6px;line-height:7.1px;color:#333;font-weight:700;letter-spacing:0.066px;transform:translateX(-50%);text-align:center;">On Duty<br>Yesterday</div>
<div class="b gbar" style="left:403.3px;top:264.7px;width:82.4px;height:12.1px;"></div>
<div class="b bar" style="left:518.5px;top:248.7px;width:3.0px;height:11.9px;"></div>
<div class="t" style="left:525.6px;top:246.6px;font-size:8.2px;line-height:8.4px;color:#3a90dc;letter-spacing:-0.119px;">Receiving<br>Patients</div>
<div class="b stripe" style="left:518.5px;top:264.2px;width:62.5px;height:12.6px;"></div>
<div class="b navsh" style="left:0px;top:300.5px;width:606px;height:5.5px;"></div>
<div class="b nav" style="left:0px;top:305.2px;width:606px;height:34.8px;"></div>
<div class="ni sm" style="left:34.3px;top:306.3px;width:19.0px;height:19.0px"><svg viewBox="0 0 26 26" width="19.0" height="19.0"><circle cx="13" cy="9.8" r="2.9" fill="none" stroke="#7386c4" stroke-width="1.25" stroke-linecap="round" stroke-linejoin="round"/><path d="M7.6 18.6c.5-3.6 2.6-5.2 5.4-5.2 1.6 0 2.9.5 3.9 1.500" fill="none" stroke="#7386c4" stroke-width="1.25" stroke-linecap="round" stroke-linejoin="round"/><rect x="14.6" y="15.6" width="3.8" height="3.2" rx=".8" fill="#7386c4"/></svg></div>
<div class="t nl" style="left:43.8px;top:329.04px;font-size:6.6px;line-height:7.92px;color:#a0a1a6;letter-spacing:0.161px;transform:translateX(-50%);text-align:center;">Patient</div>
<div class="ni sm" style="left:120.7px;top:306.3px;width:19.0px;height:19.0px"><svg viewBox="0 0 26 26" width="19.0" height="19.0"><g fill-opacity=".55"><rect x="7" y="7.200" width="5" height="5" rx="1.400" fill="#cfe0fa" stroke="#7386c4" stroke-width="1.25" stroke-linejoin="round"/><circle cx="15.800" cy="9.700" r="2.600" fill="#cfe0fa" stroke="#7386c4" stroke-width="1.25" stroke-linejoin="round"/><rect x="7" y="13.600" width="5" height="5" rx="1.400" fill="#cfe0fa" stroke="#7386c4" stroke-width="1.25" stroke-linejoin="round"/><rect x="13.300" y="13.600" width="5" height="5" rx="1.400" fill="#cfe0fa" stroke="#7386c4" stroke-width="1.25" stroke-linejoin="round"/></g></svg></div>
<div class="t nl" style="left:130.2px;top:329.04px;font-size:6.6px;line-height:7.92px;color:#a0a1a6;letter-spacing:0.324px;transform:translateX(-50%);text-align:center;">Ward Area</div>
<div class="ni on sm" style="left:207.1px;top:306.3px;width:19.0px;height:19.0px"><svg viewBox="0 0 26 26" width="19.0" height="19.0"><circle cx="13" cy="13" r="5.200" fill="none" stroke="#b9d3f1" stroke-width="1.25" stroke-linecap="round" stroke-linejoin="round"/><circle cx="13" cy="13" r="1.800" fill="none" stroke="#b9d3f1" stroke-width="1.25" stroke-linecap="round" stroke-linejoin="round"/></svg></div>
<div class="t nl" style="left:216.6px;top:329.04px;font-size:6.6px;line-height:7.92px;color:#6a93c8;letter-spacing:0.278px;transform:translateX(-50%);text-align:center;">Doctors and Nurses</div>
<div class="ni sm" style="left:293.5px;top:306.3px;width:19.0px;height:19.0px"><svg viewBox="0 0 26 26" width="19.0" height="19.0"><rect x="7.800" y="8" width="10.400" height="10.400" rx="1.400" fill="none" stroke="#7386c4" stroke-width="1.25" stroke-linecap="round" stroke-linejoin="round"/><path d="M7.800 11.600h10.400M13 11.600v6.800M10.400 14.400h5.200" fill="none" stroke="#7386c4" stroke-width="1.25" stroke-linecap="round" stroke-linejoin="round"/></svg></div>
<div class="t nl" style="left:303.0px;top:329.04px;font-size:6.6px;line-height:7.92px;color:#a0a1a6;letter-spacing:0.188px;transform:translateX(-50%);text-align:center;">Nurse Shift</div>
<div class="ni sm" style="left:379.9px;top:306.3px;width:19.0px;height:19.0px"><svg viewBox="0 0 26 26" width="19.0" height="19.0"><path d="M13 19c-3.600-2.400-6-4.600-6-7.200 0-1.800 1.300-3.100 3-3.100 1.200 0 2.300.600 3 1.700.700-1.100 1.800-1.700 3-1.700 1.700 0 3 1.300 3 3.100 0 2.600-2.400 4.800-6 7.200z" fill="none" stroke="#7386c4" stroke-width="1.25" stroke-linecap="round" stroke-linejoin="round"/><path d="M8.400 13h2.600l1.200-2 1.600 3.600 1.200-1.600h2.600" fill="none" stroke="#7386c4" stroke-width="1.25" stroke-linecap="round" stroke-linejoin="round"/></svg></div>
<div class="t nl" style="left:389.4px;top:329.04px;font-size:6.6px;line-height:7.92px;color:#a0a1a6;letter-spacing:0.096px;transform:translateX(-50%);text-align:center;">Physical Examination</div>
<div class="ni sm" style="left:466.3px;top:306.3px;width:19.0px;height:19.0px"><svg viewBox="0 0 26 26" width="19.0" height="19.0"><path d="M9.200 7.200h7.600v8.600c0 1.400-1.500 2.200-3.800 3.400-2.300-1.200-3.800-2-3.800-3.400z" fill="none" stroke="#7386c4" stroke-width="1.25" stroke-linecap="round" stroke-linejoin="round"/><path d="M13 7.400v3" fill="none" stroke="#7386c4" stroke-width="1.25" stroke-linecap="round" stroke-linejoin="round"/></svg></div>
<div class="t nl" style="left:475.8px;top:329.04px;font-size:6.6px;line-height:7.92px;color:#a0a1a6;letter-spacing:0.349px;transform:translateX(-50%);text-align:center;">Infusion Monitoring</div>
<div class="ni sm" style="left:552.9px;top:306.3px;width:19.0px;height:19.0px"><svg viewBox="0 0 26 26" width="19.0" height="19.0"><path d="M9.600 8.300A6 6 0 1 0 13 7.200" fill="none" stroke="#7386c4" stroke-width="1.25" stroke-linecap="round" stroke-linejoin="round"/><path d="M13 13.200l-2.700-3" fill="none" stroke="#7386c4" stroke-width="1.25" stroke-linecap="round" stroke-linejoin="round"/></svg></div>
<div class="t nl" style="left:562.4px;top:329.04px;font-size:6.6px;line-height:7.92px;color:#a0a1a6;letter-spacing:0.232px;transform:translateX(-50%);text-align:center;">Fire Control</div></div></section>
<section class="frame std" style="left:904px;top:458px"><div class="screen"><svg class="wedge" viewBox="0 0 606 340" width="606" height="340"><defs><linearGradient id="wgd" x1="0" x2="1" y1="0" y2="0"><stop offset="0" stop-color="#c6cace"/><stop offset=".06" stop-color="#dcdfe2"/><stop offset=".2" stop-color="#e9eaec"/><stop offset="1" stop-color="#e3e4e6"/></linearGradient></defs><polygon points="0,50.500 249,299.500 0,299.500" fill="url(#wgd)"/></svg>
<div class="t logo" style="left:19.2px;top:11.06px;font-size:14.4px;line-height:17.28px;color:rgba(255,255,255,.93);font-weight:500;transform:scaleY(.92);">清钼</div>
<div class="t hd" style="left:64.4px;top:14.76px;font-size:10.4px;line-height:12.48px;color:#eaf7ff;letter-spacing:-0.422px;">Indoor Temp&nbsp; 26</div>
<div class="t hd" style="left:179.9px;top:15.36px;font-size:10.4px;line-height:12.48px;color:#eaf7ff;letter-spacing:-0.768px;">co2&nbsp; 600</div>
<div class="t hd" style="left:233.4px;top:14.76px;font-size:10.4px;line-height:12.48px;color:#eaf7ff;letter-spacing:-0.702px;">pm2.5&nbsp; 55</div>
<div class="t hd" style="left:290.5px;top:14.76px;font-size:10.4px;line-height:12.48px;color:#eaf7ff;letter-spacing:-0.565px;">Air Quality:&nbsp; Fine</div>
<div class="t hd" style="left:455.6px;top:12.74px;font-size:12.1px;line-height:14.52px;color:#eaf7ff;letter-spacing:-0.583px;">30th July&nbsp; Friday</div>
<div class="t hd" style="left:542.0px;top:13.52px;font-size:12.3px;line-height:14.76px;color:#eaf7ff;letter-spacing:-1.070px;">13:00</div>
<div class="b dot" style="left:579.1px;top:15.7px;width:10.4px;height:10.4px;"></div>
<div class="b panel" style="left:14.4px;top:38.3px;width:577.6px;height:252.7px;"></div>
<div class="b filter" style="left:14.4px;top:38.3px;width:577.6px;height:27.3px;"></div>
<div class="t" style="left:26.5px;top:48.78px;font-size:7.2px;line-height:8.64px;color:#444444;font-weight:700;letter-spacing:-0.316px;">Shift Date</div>
<div class="b sel" style="left:61.0px;top:45.3px;width:64.1px;height:14.7px;"></div>
<div class="t" style="left:117.6px;top:48.6px;font-size:7px;line-height:8.4px;color:#777;transform:translateX(-50%);text-align:center;">▾</div>
<div class="t" style="left:158.2px;top:48.78px;font-size:7.2px;line-height:8.64px;color:#444444;font-weight:700;letter-spacing:-0.617px;">Shift</div>
<div class="b sel" style="left:176.0px;top:45.3px;width:65.2px;height:14.7px;"></div>
<div class="t" style="left:191.2px;top:48.78px;font-size:7.2px;line-height:8.64px;color:#8a8a8a;letter-spacing:-0.082px;">Day-shift</div>
<div class="t" style="left:233.2px;top:48.6px;font-size:7px;line-height:8.4px;color:#777;transform:translateX(-50%);text-align:center;">▾</div>
<div class="t" style="left:262.0px;top:48.78px;font-size:7.2px;line-height:8.64px;color:#444444;font-weight:700;letter-spacing:-0.290px;">Time Quantum</div>
<div class="t" style="left:313.0px;top:49.14px;font-size:6.6px;line-height:7.92px;color:#a9a9a9;letter-spacing:0.164px;">08:00~17:00</div>
<div class="t" style="left:385.5px;top:48.78px;font-size:7.2px;line-height:8.64px;color:#444444;font-weight:700;letter-spacing:-0.408px;">Shift Personnel</div>
<div class="t" style="left:437.5px;top:49.14px;font-size:6.6px;line-height:7.92px;color:#a9a9a9;letter-spacing:-0.570px;">Lus</div>
<div class="t" style="left:26.5px;top:80.16px;font-size:7.4px;line-height:8.88px;color:#444444;font-weight:700;letter-spacing:-0.310px;">Total Number of Patients</div>
<div class="t" style="left:112.9px;top:80.4px;font-size:7.0px;line-height:8.4px;color:#a9a9a9;letter-spacing:-0.194px;">182</div>
<div class="t" style="left:164.2px;top:80.16px;font-size:7.4px;line-height:8.88px;color:#444444;font-weight:700;letter-spacing:-0.383px;">Hospitalization</div>
<div class="t" style="left:219.5px;top:80.4px;font-size:7.0px;line-height:8.4px;color:#a9a9a9;letter-spacing:-0.197px;">36</div>
<div class="t" style="left:268.0px;top:80.16px;font-size:7.4px;line-height:8.88px;color:#444444;font-weight:700;letter-spacing:-0.594px;">Discharge</div>
<div class="t" style="left:304.5px;top:80.4px;font-size:7.0px;line-height:8.4px;color:#a9a9a9;letter-spacing:-0.197px;">18</div>
<div class="t" style="left:353.0px;top:80.16px;font-size:7.4px;line-height:8.88px;color:#444444;font-weight:700;letter-spacing:-0.405px;">Transfer Out</div>
<div class="t" style="left:398.5px;top:80.4px;font-size:7.0px;line-height:8.4px;color:#a9a9a9;letter-spacing:-0.197px;">16</div>
<div class="t" style="left:448.5px;top:80.16px;font-size:7.4px;line-height:8.88px;color:#444444;font-weight:700;letter-spacing:-0.369px;">Transferred In</div>
<div class="t" style="left:500.0px;top:80.4px;font-size:7.0px;line-height:8.4px;color:#a9a9a9;letter-spacing:-0.197px;">16</div>
<div class="t" style="left:26.5px;top:100.76px;font-size:7.4px;line-height:8.88px;color:#444444;font-weight:700;letter-spacing:-0.614px;">Surgeries</div>
<div class="t" style="left:60.0px;top:101.0px;font-size:7.0px;line-height:8.4px;color:#a9a9a9;letter-spacing:0.203px;">23</div>
<div class="t" style="left:164.2px;top:100.76px;font-size:7.4px;line-height:8.88px;color:#444444;font-weight:700;letter-spacing:-0.692px;">Births</div>
<div class="t" style="left:189.3px;top:101.0px;font-size:7.0px;line-height:8.4px;color:#a9a9a9;letter-spacing:-0.106px;">9</div>
<div class="t" style="left:268.0px;top:100.76px;font-size:7.4px;line-height:8.88px;color:#444444;font-weight:700;letter-spacing:-0.534px;">Critically ill</div>
<div class="t" style="left:304.0px;top:101.0px;font-size:7.0px;line-height:8.4px;color:#a9a9a9;letter-spacing:-0.106px;">5</div>
<div class="t" style="left:353.0px;top:100.76px;font-size:7.4px;line-height:8.88px;color:#444444;font-weight:700;letter-spacing:-0.503px;">Scheduled surgery</div>
<div class="t" style="left:416.0px;top:101.0px;font-size:7.0px;line-height:8.4px;color:#a9a9a9;letter-spacing:-0.197px;">12</div>
<div class="t" style="left:448.5px;top:100.76px;font-size:7.4px;line-height:8.88px;color:#444444;font-weight:700;letter-spacing:-0.299px;">Death Toll</div>
<div class="t" style="left:486.0px;top:101.0px;font-size:7.0px;line-height:8.4px;color:#a9a9a9;letter-spacing:-0.106px;">1</div>
<div class="b thead" style="left:21.4px;top:125.8px;width:563.6px;height:18.2px;"></div>
<div class="t" style="left:34.0px;top:130.0px;font-size:9.0px;line-height:10.8px;color:#f2f9ff;letter-spacing:-0.469px;">Serial Number</div>
<div class="t" style="left:109.1px;top:130.0px;font-size:9.0px;line-height:10.8px;color:#f2f9ff;letter-spacing:-0.437px;">Bed Number</div>
<div class="t" style="left:191.5px;top:130.0px;font-size:9.0px;line-height:10.8px;color:#f2f9ff;letter-spacing:-0.705px;">Name</div>
<div class="t" style="left:352.5px;top:130.0px;font-size:9.0px;line-height:10.8px;color:#f2f9ff;letter-spacing:-0.436px;">Reason for Shift</div>
<div class="t" style="left:495.5px;top:130.0px;font-size:9.0px;line-height:10.8px;color:#f2f9ff;letter-spacing:-0.318px;">Detailed Description</div>
<div class="b tr" style="left:21.4px;top:144.0px;width:563.6px;height:15.5px;"></div>
<div class="t" style="left:34.8px;top:147.82px;font-size:6.3px;line-height:7.56px;color:#828282;letter-spacing:-0.882px;">01</div>
<div class="t" style="left:109.8px;top:147.82px;font-size:6.3px;line-height:7.56px;color:#828282;letter-spacing:-0.429px;">30001</div>
<div class="t" style="left:191.5px;top:147.7px;font-size:6.5px;line-height:7.8px;color:#828282;letter-spacing:0.121px;">Michal</div>
<div class="t" style="left:352.7px;top:147.7px;font-size:6.5px;line-height:7.8px;color:#828282;letter-spacing:-0.096px;">Discharge</div>
<div class="t" style="left:495.5px;top:147.7px;font-size:6.5px;line-height:7.8px;color:#7fa6d4;letter-spacing:-0.179px;">Details</div>
<div class="b tr alt" style="left:21.4px;top:159.5px;width:563.6px;height:15.5px;"></div>
<div class="t" style="left:34.8px;top:163.32px;font-size:6.3px;line-height:7.56px;color:#828282;letter-spacing:-0.882px;">02</div>
<div class="t" style="left:109.8px;top:163.32px;font-size:6.3px;line-height:7.56px;color:#828282;letter-spacing:-0.429px;">30002</div>
<div class="t" style="left:191.5px;top:163.2px;font-size:6.5px;line-height:7.8px;color:#828282;letter-spacing:0.121px;">Michal</div>
<div class="t" style="left:352.7px;top:163.2px;font-size:6.5px;line-height:7.8px;color:#828282;letter-spacing:-0.128px;">Surgery</div>
<div class="t" style="left:495.5px;top:163.2px;font-size:6.5px;line-height:7.8px;color:#7fa6d4;letter-spacing:-0.179px;">Details</div>
<div class="b tr" style="left:21.4px;top:175.0px;width:563.6px;height:15.5px;"></div>
<div class="t" style="left:34.8px;top:178.82px;font-size:6.3px;line-height:7.56px;color:#828282;letter-spacing:-0.882px;">03</div>
<div class="t" style="left:109.8px;top:178.82px;font-size:6.3px;line-height:7.56px;color:#828282;letter-spacing:-0.429px;">30003</div>
<div class="t" style="left:191.5px;top:178.7px;font-size:6.5px;line-height:7.8px;color:#828282;letter-spacing:0.121px;">Michal</div>
<div class="t" style="left:352.7px;top:178.7px;font-size:6.5px;line-height:7.8px;color:#828282;letter-spacing:-0.068px;">Transfer Out</div>
<div class="t" style="left:495.5px;top:178.7px;font-size:6.5px;line-height:7.8px;color:#7fa6d4;letter-spacing:-0.179px;">Details</div>
<div class="b tr alt" style="left:21.4px;top:190.5px;width:563.6px;height:15.5px;"></div>
<div class="t" style="left:34.8px;top:194.32px;font-size:6.3px;line-height:7.56px;color:#828282;letter-spacing:-0.882px;">04</div>
<div class="t" style="left:109.8px;top:194.32px;font-size:6.3px;line-height:7.56px;color:#828282;letter-spacing:-0.429px;">30004</div>
<div class="t" style="left:191.5px;top:194.2px;font-size:6.5px;line-height:7.8px;color:#828282;letter-spacing:0.121px;">Michal</div>
<div class="t" style="left:352.7px;top:194.2px;font-size:6.5px;line-height:7.8px;color:#828282;letter-spacing:-0.096px;">Discharge</div>
<div class="t" style="left:495.5px;top:194.2px;font-size:6.5px;line-height:7.8px;color:#7fa6d4;letter-spacing:-0.179px;">Details</div>
<div class="b tr" style="left:21.4px;top:206.0px;width:563.6px;height:15.5px;"></div>
<div class="b tr alt" style="left:21.4px;top:221.5px;width:563.6px;height:15.5px;"></div>
<div class="b tr" style="left:21.4px;top:237.0px;width:563.6px;height:15.5px;"></div>
<div class="b tr alt" style="left:21.4px;top:252.5px;width:563.6px;height:15.5px;"></div>
<div class="b tr" style="left:21.4px;top:268.0px;width:563.6px;height:15.5px;"></div>
<div class="b navsh" style="left:0px;top:291.3px;width:606px;height:6.0px;"></div>
<div class="b nav" style="left:0px;top:296.3px;width:606px;height:43.7px;"></div>
<div class="ni" style="left:31.9px;top:298.0px;width:26px;height:26px"><svg viewBox="0 0 26 26" width="26" height="26"><g fill-opacity=".55"><rect x="7" y="7.200" width="5" height="5" rx="1.400" fill="#cfe0fa" stroke="#7386c4" stroke-width="1.25" stroke-linejoin="round"/><circle cx="15.800" cy="9.700" r="2.600" fill="#cfe0fa" stroke="#7386c4" stroke-width="1.25" stroke-linejoin="round"/><rect x="7" y="13.600" width="5" height="5" rx="1.400" fill="#cfe0fa" stroke="#7386c4" stroke-width="1.25" stroke-linejoin="round"/><rect x="13.300" y="13.600" width="5" height="5" rx="1.400" fill="#cfe0fa" stroke="#7386c4" stroke-width="1.25" stroke-linejoin="round"/></g></svg></div>
<div class="t nl" style="left:44.5px;top:326.64px;font-size:6.6px;line-height:7.92px;color:#a0a1a6;letter-spacing:0.031px;transform:translateX(-50%);text-align:center;">Ward Overview</div>
<div class="ni" style="left:105.8px;top:298.0px;width:26px;height:26px"><svg viewBox="0 0 26 26" width="26" height="26"><circle cx="13" cy="9.8" r="2.9" fill="none" stroke="#7386c4" stroke-width="1.25" stroke-linecap="round" stroke-linejoin="round"/><path d="M7.6 18.6c.5-3.6 2.6-5.2 5.4-5.2 1.6 0 2.9.5 3.9 1.500" fill="none" stroke="#7386c4" stroke-width="1.25" stroke-linecap="round" stroke-linejoin="round"/><rect x="14.6" y="15.6" width="3.8" height="3.2" rx=".8" fill="#7386c4"/></svg></div>
<div class="t nl" style="left:118.5px;top:326.64px;font-size:6.6px;line-height:7.92px;color:#a0a1a6;letter-spacing:0.024px;transform:translateX(-50%);text-align:center;">Patient Overview</div>
<div class="ni on" style="left:179.8px;top:298.0px;width:26px;height:26px"><svg viewBox="0 0 26 26" width="26" height="26"><path d="M7.800 11h10.400l-2.800-2.400M18.200 15H7.800l2.800 2.400" fill="none" stroke="#b9d3f1" stroke-width="1.25" stroke-linecap="round" stroke-linejoin="round" opacity=".8"/></svg></div>
<div class="t nl" style="left:193.4px;top:326.64px;font-size:6.6px;line-height:7.92px;color:#5590d0;letter-spacing:0.037px;transform:translateX(-50%);text-align:center;">Nurse Shifting</div>
<div class="ni" style="left:253.5px;top:298.0px;width:26px;height:26px"><svg viewBox="0 0 26 26" width="26" height="26"><rect x="8" y="8" width="10" height="11" rx="1.400" fill="none" stroke="#7386c4" stroke-width="1.25" stroke-linecap="round" stroke-linejoin="round"/><path d="M10.4 6.900v2.200M15.600 6.900v2.200M10.200 14h5.600M10.200 16.500h5.600M13 10.600v2" fill="none" stroke="#7386c4" stroke-width="1.25" stroke-linecap="round" stroke-linejoin="round"/></svg></div>
<div class="t nl" style="left:267.7px;top:326.64px;font-size:6.6px;line-height:7.92px;color:#a0a1a6;letter-spacing:-0.051px;transform:translateX(-50%);text-align:center;">Paramedic Schedule</div>
<div class="ni" style="left:327.9px;top:298.0px;width:26px;height:26px"><svg viewBox="0 0 26 26" width="26" height="26"><path d="M9.600 8.300A6 6 0 1 0 13 7.200" fill="none" stroke="#7386c4" stroke-width="1.25" stroke-linecap="round" stroke-linejoin="round"/><path d="M13 13.200l-2.700-3" fill="none" stroke="#7386c4" stroke-width="1.25" stroke-linecap="round" stroke-linejoin="round"/></svg></div>
<div class="t nl" style="left:342.3px;top:326.64px;font-size:6.6px;line-height:7.92px;color:#a0a1a6;letter-spacing:0.122px;transform:translateX(-50%);text-align:center;">Vital Sign Monitoring</div>
<div class="ni" style="left:404.8px;top:298.0px;width:26px;height:26px"><svg viewBox="0 0 26 26" width="26" height="26"><path d="M9.200 7.200h7.600v8.600c0 1.400-1.500 2.200-3.800 3.400-2.300-1.200-3.800-2-3.800-3.400z" fill="none" stroke="#7386c4" stroke-width="1.25" stroke-linecap="round" stroke-linejoin="round"/><path d="M13 7.400v3" fill="none" stroke="#7386c4" stroke-width="1.25" stroke-linecap="round" stroke-linejoin="round"/></svg></div>
<div class="t nl" style="left:416.8px;top:326.64px;font-size:6.6px;line-height:7.92px;color:#a0a1a6;letter-spacing:0.045px;transform:translateX(-50%);text-align:center;">Transfusion Detection</div>
<div class="ni" style="left:478.5px;top:298.0px;width:26px;height:26px"><svg viewBox="0 0 26 26" width="26" height="26"><circle cx="10.400" cy="17" r="2" fill="none" stroke="#7386c4" stroke-width="1.25" stroke-linecap="round" stroke-linejoin="round"/><circle cx="15.600" cy="17" r="2" fill="none" stroke="#7386c4" stroke-width="1.25" stroke-linecap="round" stroke-linejoin="round"/><path d="M11.400 15.300l4-8.300M14.600 15.300l-4-8.300" fill="none" stroke="#7386c4" stroke-width="1.25" stroke-linecap="round" stroke-linejoin="round"/></svg></div>
<div class="t nl" style="left:491.5px;top:326.64px;font-size:6.6px;line-height:7.92px;color:#a0a1a6;letter-spacing:0.117px;transform:translateX(-50%);text-align:center;">Surgery Monitoring</div>
<div class="ni" style="left:554.0px;top:298.0px;width:26px;height:26px"><svg viewBox="0 0 26 26" width="26" height="26"><path d="M7.600 8.400h10.800v7.600h-4l-1.400 1.600-1.400-1.600h-4z" fill="none" stroke="#7386c4" stroke-width="1.25" stroke-linecap="round" stroke-linejoin="round"/><path d="M9.800 11h6.400M9.800 13.400h3.600" fill="none" stroke="#7386c4" stroke-width="1.25" stroke-linecap="round" stroke-linejoin="round"/></svg></div>
<div class="t nl" style="left:566.0px;top:326.64px;font-size:6.6px;line-height:7.92px;color:#a0a1a6;letter-spacing:0.180px;transform:translateX(-50%);text-align:center;">Notification Publicity</div></div></section>
</body></html>
